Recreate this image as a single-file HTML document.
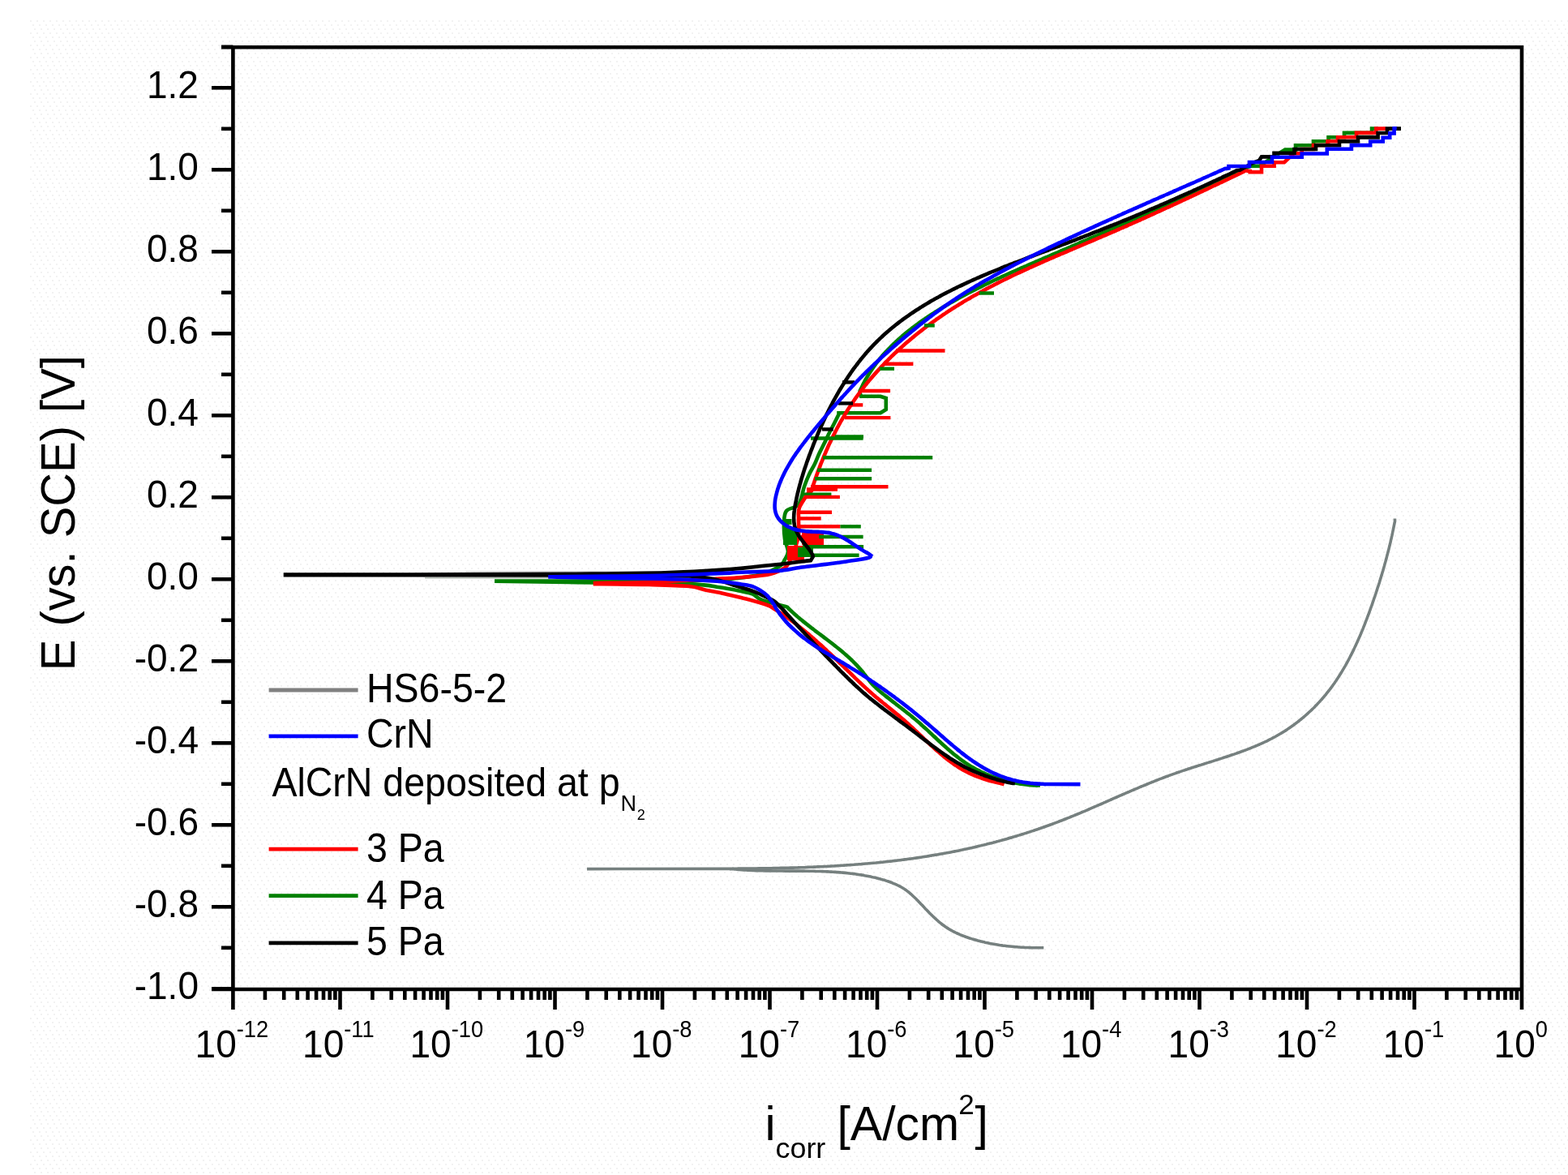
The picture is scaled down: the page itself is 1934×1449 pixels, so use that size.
<!DOCTYPE html><html><head><meta charset="utf-8"><style>html,body{margin:0;padding:0;background:#fff;width:1934px;height:1449px;overflow:hidden}svg{display:block}text{font-family:"Liberation Sans",Arial,sans-serif;fill:#000}</style></head><body>
<svg width="1934" height="1449" viewBox="0 0 1934 1449">
<defs><pattern id="dots" x="37" y="25" width="8" height="15" patternUnits="userSpaceOnUse"><rect x="0" y="0" width="2" height="2" fill="#f2f2f2"/><rect x="3" y="5" width="2" height="2" fill="#f2f2f2"/><rect x="5" y="10" width="2" height="2" fill="#f2f2f2"/></pattern></defs>
<rect x="0" y="0" width="1934" height="1449" fill="#fff"/>
<rect x="37" y="25" width="1897" height="1424" fill="url(#dots)"/>
<g fill="none" stroke-linejoin="miter" stroke-miterlimit="1.5" stroke-linecap="butt">
<path d="M524 712.8 H678" stroke="#b4bcb4" stroke-width="1.6"/>
<path d="M574 704.8 H860" stroke="#cfcfcf" stroke-width="1.2"/>
<path d="M724.0,1071.6 L900.0,1071.4 C900.5,1071.4 902.0,1071.2 903.0,1071.2 C904.0,1071.1 905.0,1071.2 906.0,1071.2 C907.0,1071.2 908.0,1071.2 909.0,1071.2 C910.0,1071.2 911.0,1071.1 912.0,1071.1 C913.0,1071.1 914.0,1071.1 915.0,1071.1 C916.0,1071.1 917.0,1071.1 918.0,1071.1 C919.0,1071.1 920.0,1071.1 921.0,1071.1 C922.0,1071.1 923.0,1071.1 924.0,1071.1 C925.0,1071.0 926.0,1071.0 927.1,1071.0 C928.1,1071.0 929.1,1071.0 930.1,1071.0 C931.1,1071.0 932.1,1071.0 933.1,1071.0 C934.1,1070.9 935.1,1070.9 936.1,1070.9 C937.1,1070.9 938.1,1070.9 939.1,1070.9 C940.1,1070.9 941.1,1070.9 942.1,1070.8 C943.1,1070.8 944.1,1070.8 945.1,1070.8 C946.1,1070.8 947.1,1070.8 948.1,1070.7 C949.1,1070.7 950.1,1070.7 951.1,1070.7 C952.1,1070.7 953.1,1070.7 954.1,1070.6 C955.1,1070.6 956.1,1070.6 957.1,1070.6 C958.1,1070.6 959.1,1070.5 960.1,1070.5 C961.1,1070.5 962.1,1070.5 963.2,1070.4 C964.2,1070.4 965.2,1070.4 966.2,1070.4 C967.2,1070.4 968.2,1070.3 969.2,1070.3 C970.2,1070.3 971.2,1070.3 972.2,1070.2 C973.2,1070.2 974.2,1070.2 975.2,1070.1 C976.2,1070.1 977.2,1070.1 978.2,1070.1 C979.2,1070.0 980.2,1070.0 981.2,1070.0 C982.2,1069.9 983.2,1069.9 984.2,1069.9 C985.2,1069.8 986.2,1069.8 987.2,1069.8 C988.2,1069.7 989.2,1069.7 990.2,1069.7 C991.2,1069.6 992.2,1069.6 993.2,1069.6 C994.2,1069.5 995.2,1069.5 996.2,1069.4 C997.3,1069.4 998.3,1069.4 999.3,1069.3 C1000.3,1069.3 1001.3,1069.2 1002.3,1069.2 C1003.3,1069.2 1004.3,1069.1 1005.3,1069.1 C1006.3,1069.0 1007.3,1069.0 1008.3,1068.9 C1009.3,1068.9 1010.3,1068.8 1011.3,1068.8 C1012.3,1068.8 1013.3,1068.7 1014.3,1068.7 C1015.3,1068.6 1016.3,1068.6 1017.3,1068.5 C1018.3,1068.5 1019.3,1068.4 1020.3,1068.4 C1021.3,1068.3 1022.3,1068.2 1023.3,1068.2 C1024.3,1068.1 1025.3,1068.1 1026.3,1068.0 C1027.3,1068.0 1028.3,1067.9 1029.3,1067.9 C1030.3,1067.8 1031.3,1067.7 1032.3,1067.7 C1033.3,1067.6 1034.3,1067.6 1035.3,1067.5 C1036.3,1067.4 1037.3,1067.4 1038.3,1067.3 C1039.3,1067.2 1040.3,1067.2 1041.3,1067.1 C1042.3,1067.0 1043.3,1067.0 1044.3,1066.9 C1045.3,1066.8 1046.3,1066.8 1047.3,1066.7 C1048.3,1066.6 1049.3,1066.6 1050.3,1066.5 C1051.3,1066.4 1052.3,1066.3 1053.3,1066.3 C1054.3,1066.2 1055.3,1066.1 1056.3,1066.0 C1057.3,1066.0 1058.3,1065.9 1059.3,1065.8 C1060.3,1065.7 1061.3,1065.6 1062.3,1065.6 C1063.3,1065.5 1064.3,1065.4 1065.3,1065.3 C1066.3,1065.2 1067.3,1065.1 1068.3,1065.0 C1069.3,1065.0 1070.3,1064.9 1071.3,1064.8 C1072.3,1064.7 1073.3,1064.6 1074.3,1064.5 C1075.3,1064.4 1076.3,1064.3 1077.3,1064.2 C1078.3,1064.1 1079.3,1064.0 1080.3,1064.0 C1081.3,1063.9 1082.3,1063.8 1083.3,1063.7 C1084.3,1063.6 1085.3,1063.5 1086.3,1063.4 C1087.3,1063.3 1088.3,1063.2 1089.3,1063.1 C1090.3,1062.9 1091.3,1062.8 1092.3,1062.7 C1093.3,1062.6 1094.3,1062.5 1095.2,1062.4 C1096.2,1062.3 1097.2,1062.2 1098.2,1062.1 C1099.2,1062.0 1100.2,1061.9 1101.2,1061.7 C1102.2,1061.6 1103.2,1061.5 1104.2,1061.4 C1105.2,1061.3 1106.2,1061.2 1107.2,1061.0 C1108.2,1060.9 1109.2,1060.8 1110.2,1060.7 C1111.2,1060.6 1112.2,1060.4 1113.2,1060.3 C1114.2,1060.2 1115.1,1060.0 1116.1,1059.9 C1117.1,1059.8 1118.1,1059.7 1119.1,1059.5 C1120.1,1059.4 1121.1,1059.3 1122.1,1059.1 C1123.1,1059.0 1124.1,1058.9 1125.1,1058.7 C1126.1,1058.6 1127.1,1058.4 1128.0,1058.3 C1129.0,1058.2 1130.0,1058.0 1131.0,1057.9 C1132.0,1057.7 1133.0,1057.6 1134.0,1057.4 C1135.0,1057.3 1136.0,1057.2 1137.0,1057.0 C1138.0,1056.9 1139.0,1056.7 1139.9,1056.5 C1140.9,1056.4 1141.9,1056.2 1142.9,1056.1 C1143.9,1055.9 1144.9,1055.8 1145.9,1055.6 C1146.9,1055.5 1147.9,1055.3 1148.8,1055.1 C1149.8,1055.0 1150.8,1054.8 1151.8,1054.6 C1152.8,1054.5 1153.8,1054.3 1154.8,1054.1 C1155.8,1054.0 1156.7,1053.8 1157.7,1053.6 C1158.7,1053.5 1159.7,1053.3 1160.7,1053.1 C1161.7,1052.9 1162.7,1052.8 1163.7,1052.6 C1164.6,1052.4 1165.6,1052.2 1166.6,1052.0 C1167.6,1051.9 1168.6,1051.7 1169.6,1051.5 C1170.6,1051.3 1171.5,1051.1 1172.5,1050.9 C1173.5,1050.7 1174.5,1050.5 1175.5,1050.3 C1176.5,1050.2 1177.4,1050.0 1178.4,1049.8 C1179.4,1049.6 1180.4,1049.4 1181.4,1049.2 C1182.4,1049.0 1183.3,1048.8 1184.3,1048.6 C1185.3,1048.4 1186.3,1048.2 1187.3,1047.9 C1188.3,1047.7 1189.2,1047.5 1190.2,1047.3 C1191.2,1047.1 1192.2,1046.9 1193.2,1046.7 C1194.1,1046.5 1195.1,1046.3 1196.1,1046.0 C1197.1,1045.8 1198.1,1045.6 1199.0,1045.4 C1200.0,1045.2 1201.0,1044.9 1202.0,1044.7 C1203.0,1044.5 1203.9,1044.3 1204.9,1044.0 C1205.9,1043.8 1206.9,1043.6 1207.8,1043.3 C1208.8,1043.1 1209.8,1042.9 1210.8,1042.6 C1211.7,1042.4 1212.7,1042.2 1213.7,1041.9 C1214.7,1041.7 1215.7,1041.4 1216.6,1041.2 C1217.6,1040.9 1218.6,1040.7 1219.5,1040.5 C1220.5,1040.2 1221.5,1040.0 1222.5,1039.7 C1223.4,1039.5 1224.4,1039.2 1225.4,1039.0 C1226.4,1038.7 1227.3,1038.4 1228.3,1038.2 C1229.3,1037.9 1230.2,1037.7 1231.2,1037.4 C1232.2,1037.1 1233.1,1036.9 1234.1,1036.6 C1235.1,1036.3 1236.1,1036.1 1237.0,1035.8 C1238.0,1035.5 1239.0,1035.3 1239.9,1035.0 C1240.9,1034.7 1241.9,1034.5 1242.8,1034.2 C1243.8,1033.9 1244.8,1033.6 1245.7,1033.3 C1246.7,1033.1 1247.6,1032.8 1248.6,1032.5 C1249.6,1032.2 1250.5,1031.9 1251.5,1031.6 C1252.5,1031.4 1253.4,1031.1 1254.4,1030.8 C1255.3,1030.5 1256.3,1030.2 1257.3,1029.9 C1258.2,1029.6 1259.2,1029.3 1260.1,1029.0 C1261.1,1028.7 1262.1,1028.4 1263.0,1028.1 C1264.0,1027.8 1264.9,1027.5 1265.9,1027.2 C1266.8,1026.9 1267.8,1026.6 1268.8,1026.3 C1269.7,1026.0 1270.7,1025.7 1271.6,1025.3 C1272.6,1025.0 1273.5,1024.7 1274.5,1024.4 C1275.4,1024.1 1276.4,1023.8 1277.3,1023.4 C1278.3,1023.1 1279.2,1022.8 1280.2,1022.5 C1281.1,1022.2 1282.1,1021.8 1283.0,1021.5 C1284.0,1021.2 1284.9,1020.8 1285.9,1020.5 C1286.8,1020.2 1287.8,1019.9 1288.7,1019.5 C1289.6,1019.2 1290.6,1018.8 1291.5,1018.5 C1292.5,1018.2 1293.4,1017.8 1294.4,1017.5 C1295.3,1017.1 1296.2,1016.8 1297.2,1016.5 C1298.1,1016.1 1299.1,1015.8 1300.0,1015.4 C1300.9,1015.1 1301.9,1014.7 1302.8,1014.4 C1303.7,1014.0 1304.7,1013.7 1305.6,1013.3 C1306.5,1012.9 1307.5,1012.6 1308.4,1012.2 C1309.3,1011.9 1310.3,1011.5 1311.2,1011.1 C1312.1,1010.8 1313.1,1010.4 1314.0,1010.0 C1314.9,1009.7 1315.9,1009.3 1316.8,1008.9 C1317.7,1008.6 1318.6,1008.2 1319.6,1007.8 C1320.5,1007.4 1321.4,1007.1 1322.3,1006.7 C1323.3,1006.3 1324.2,1005.9 1325.1,1005.6 C1326.0,1005.2 1327.0,1004.8 1327.9,1004.4 C1328.8,1004.0 1329.7,1003.6 1330.7,1003.3 C1331.6,1002.9 1332.5,1002.5 1333.4,1002.1 C1334.3,1001.7 1335.3,1001.3 1336.2,1000.9 C1337.1,1000.6 1338.0,1000.2 1338.9,999.8 C1339.9,999.4 1340.8,999.0 1341.7,998.6 C1342.6,998.2 1343.5,997.8 1344.4,997.4 C1345.4,997.0 1346.3,996.6 1347.2,996.2 C1348.1,995.8 1349.0,995.4 1349.9,995.0 C1350.9,994.6 1351.8,994.2 1352.7,993.9 C1353.6,993.5 1354.5,993.1 1355.4,992.7 C1356.3,992.3 1357.3,991.9 1358.2,991.5 C1359.1,991.1 1360.0,990.7 1360.9,990.3 C1361.8,989.9 1362.8,989.5 1363.7,989.1 C1364.6,988.7 1365.5,988.2 1366.4,987.8 C1367.3,987.4 1368.2,987.0 1369.2,986.6 C1370.1,986.2 1371.0,985.8 1371.9,985.4 C1372.8,985.0 1373.7,984.6 1374.6,984.2 C1375.6,983.8 1376.5,983.4 1377.4,983.0 C1378.3,982.6 1379.2,982.2 1380.1,981.8 C1381.0,981.4 1382.0,981.0 1382.9,980.6 C1383.8,980.2 1384.7,979.8 1385.6,979.4 C1386.5,979.0 1387.5,978.6 1388.4,978.2 C1389.3,977.8 1390.2,977.4 1391.1,977.0 C1392.1,976.6 1393.0,976.2 1393.9,975.8 C1394.8,975.5 1395.7,975.1 1396.6,974.7 C1397.6,974.3 1398.5,973.9 1399.4,973.5 C1400.3,973.1 1401.3,972.7 1402.2,972.3 C1403.1,971.9 1404.0,971.5 1404.9,971.1 C1405.9,970.7 1406.8,970.4 1407.7,970.0 C1408.6,969.6 1409.6,969.2 1410.5,968.8 C1411.4,968.4 1412.3,968.0 1413.3,967.7 C1414.2,967.3 1415.1,966.9 1416.0,966.5 C1417.0,966.1 1417.9,965.8 1418.8,965.4 C1419.8,965.0 1420.7,964.6 1421.6,964.3 C1422.6,963.9 1423.5,963.5 1424.4,963.1 C1425.4,962.8 1426.3,962.4 1427.2,962.0 C1428.2,961.7 1429.1,961.3 1430.0,960.9 C1431.0,960.6 1431.9,960.2 1432.9,959.9 C1433.8,959.5 1434.7,959.1 1435.7,958.8 C1436.6,958.4 1437.6,958.1 1438.5,957.7 C1439.4,957.4 1440.4,957.0 1441.3,956.7 C1442.3,956.3 1443.2,956.0 1444.2,955.6 C1445.1,955.3 1446.1,954.9 1447.0,954.6 C1448.0,954.3 1448.9,953.9 1449.9,953.6 C1450.8,953.2 1451.8,952.9 1452.7,952.6 C1453.7,952.3 1454.7,951.9 1455.6,951.6 C1456.6,951.3 1457.5,950.9 1458.5,950.6 C1459.5,950.3 1460.4,950.0 1461.4,949.7 C1462.3,949.3 1463.3,949.0 1464.3,948.7 C1465.2,948.4 1466.2,948.1 1467.2,947.8 C1468.1,947.4 1469.1,947.1 1470.0,946.8 C1471.0,946.5 1472.0,946.2 1472.9,945.9 C1473.9,945.6 1474.9,945.3 1475.8,945.0 C1476.8,944.7 1477.8,944.3 1478.7,944.0 C1479.7,943.7 1480.7,943.4 1481.7,943.1 C1482.6,942.8 1483.6,942.5 1484.6,942.2 C1485.5,941.9 1486.5,941.6 1487.5,941.3 C1488.4,941.0 1489.4,940.7 1490.4,940.4 C1491.3,940.1 1492.3,939.8 1493.3,939.5 C1494.2,939.2 1495.2,938.9 1496.2,938.6 C1497.1,938.2 1498.1,937.9 1499.1,937.6 C1500.0,937.3 1501.0,937.0 1502.0,936.7 C1502.9,936.4 1503.9,936.1 1504.9,935.8 C1505.8,935.5 1506.8,935.2 1507.8,934.9 C1508.7,934.5 1509.7,934.2 1510.6,933.9 C1511.6,933.6 1512.6,933.3 1513.5,933.0 C1514.5,932.6 1515.4,932.3 1516.4,932.0 C1517.3,931.7 1518.3,931.4 1519.3,931.0 C1520.2,930.7 1521.2,930.4 1522.1,930.1 C1523.1,929.7 1524.0,929.4 1525.0,929.1 C1525.9,928.7 1526.9,928.4 1527.8,928.1 C1528.7,927.7 1529.7,927.4 1530.6,927.1 C1531.6,926.7 1532.5,926.4 1533.5,926.0 C1534.4,925.7 1535.3,925.3 1536.3,925.0 C1537.2,924.6 1538.1,924.3 1539.1,923.9 C1540.0,923.6 1540.9,923.2 1541.9,922.8 C1542.8,922.5 1543.7,922.1 1544.6,921.7 C1545.5,921.3 1546.5,921.0 1547.4,920.6 C1548.3,920.2 1549.2,919.8 1550.1,919.4 C1551.1,919.0 1552.0,918.6 1552.9,918.3 C1553.8,917.9 1554.7,917.5 1555.6,917.0 C1556.5,916.6 1557.4,916.2 1558.3,915.8 C1559.2,915.4 1560.1,915.0 1561.0,914.5 C1561.9,914.1 1562.8,913.7 1563.7,913.3 C1564.5,912.8 1565.4,912.4 1566.3,911.9 C1567.2,911.5 1568.1,911.0 1568.9,910.6 C1569.8,910.1 1570.7,909.6 1571.6,909.2 C1572.4,908.7 1573.3,908.2 1574.2,907.7 C1575.0,907.3 1575.9,906.8 1576.7,906.3 C1577.6,905.8 1578.4,905.3 1579.3,904.8 C1580.1,904.3 1581.0,903.8 1581.8,903.2 C1582.7,902.7 1583.5,902.2 1584.3,901.7 C1585.2,901.1 1586.0,900.6 1586.8,900.1 C1587.7,899.5 1588.5,899.0 1589.3,898.4 C1590.1,897.9 1590.9,897.3 1591.8,896.7 C1592.6,896.2 1593.4,895.6 1594.2,895.0 C1595.0,894.4 1595.8,893.9 1596.6,893.3 C1597.4,892.7 1598.2,892.1 1599.0,891.5 C1599.8,890.9 1600.5,890.3 1601.3,889.7 C1602.1,889.1 1602.9,888.4 1603.7,887.8 C1604.4,887.2 1605.2,886.6 1606.0,885.9 C1606.7,885.3 1607.5,884.7 1608.2,884.0 C1609.0,883.4 1609.7,882.7 1610.5,882.1 C1611.2,881.4 1612.0,880.8 1612.7,880.1 C1613.5,879.4 1614.2,878.8 1614.9,878.1 C1615.6,877.4 1616.4,876.7 1617.1,876.1 C1617.8,875.4 1618.5,874.7 1619.2,874.0 C1619.9,873.3 1620.7,872.6 1621.4,871.9 C1622.1,871.2 1622.8,870.5 1623.4,869.7 C1624.1,869.0 1624.8,868.3 1625.5,867.6 C1626.2,866.9 1626.9,866.1 1627.5,865.4 C1628.2,864.7 1628.9,863.9 1629.5,863.2 C1630.2,862.4 1630.9,861.7 1631.5,860.9 C1632.2,860.2 1632.8,859.4 1633.4,858.7 C1634.1,857.9 1634.7,857.1 1635.4,856.4 C1636.0,855.6 1636.6,854.8 1637.2,854.0 C1637.9,853.2 1638.5,852.5 1639.1,851.7 C1639.7,850.9 1640.3,850.1 1640.9,849.3 C1641.5,848.5 1642.1,847.7 1642.7,846.9 C1643.3,846.1 1643.9,845.3 1644.4,844.4 C1645.0,843.6 1645.6,842.8 1646.2,842.0 C1646.7,841.2 1647.3,840.3 1647.9,839.5 C1648.4,838.7 1649.0,837.8 1649.5,837.0 C1650.1,836.2 1650.6,835.3 1651.2,834.5 C1651.7,833.6 1652.3,832.8 1652.8,831.9 C1653.3,831.1 1653.8,830.2 1654.4,829.4 C1654.9,828.5 1655.4,827.7 1655.9,826.8 C1656.5,825.9 1657.0,825.1 1657.5,824.2 C1658.0,823.3 1658.5,822.4 1659.0,821.6 C1659.5,820.7 1660.0,819.8 1660.5,818.9 C1661.0,818.0 1661.4,817.2 1661.9,816.3 C1662.4,815.4 1662.9,814.5 1663.4,813.6 C1663.8,812.7 1664.3,811.8 1664.8,810.9 C1665.3,810.0 1665.7,809.1 1666.2,808.2 C1666.6,807.3 1667.1,806.4 1667.5,805.5 C1668.0,804.6 1668.4,803.7 1668.9,802.8 C1669.3,801.8 1669.8,800.9 1670.2,800.0 C1670.7,799.1 1671.1,798.2 1671.5,797.2 C1672.0,796.3 1672.4,795.4 1672.8,794.5 C1673.2,793.6 1673.7,792.6 1674.1,791.7 C1674.5,790.8 1674.9,789.8 1675.3,788.9 C1675.7,788.0 1676.1,787.1 1676.5,786.1 C1677.0,785.2 1677.4,784.2 1677.8,783.3 C1678.2,782.4 1678.6,781.4 1678.9,780.5 C1679.3,779.6 1679.7,778.6 1680.1,777.7 C1680.5,776.7 1680.9,775.8 1681.3,774.9 C1681.7,773.9 1682.0,773.0 1682.4,772.0 C1682.8,771.1 1683.2,770.1 1683.5,769.2 C1683.9,768.2 1684.3,767.3 1684.6,766.3 C1685.0,765.4 1685.4,764.4 1685.7,763.5 C1686.1,762.5 1686.5,761.6 1686.8,760.6 C1687.2,759.7 1687.5,758.7 1687.9,757.8 C1688.2,756.8 1688.6,755.9 1688.9,754.9 C1689.3,754.0 1689.6,753.0 1690.0,752.1 C1690.3,751.1 1690.6,750.2 1691.0,749.2 C1691.3,748.3 1691.6,747.3 1692.0,746.4 C1692.3,745.4 1692.6,744.5 1693.0,743.5 C1693.3,742.6 1693.6,741.6 1694.0,740.7 C1694.3,739.7 1694.6,738.8 1694.9,737.8 C1695.3,736.9 1695.6,735.9 1695.9,735.0 C1696.2,734.0 1696.5,733.1 1696.9,732.1 C1697.2,731.2 1697.5,730.2 1697.8,729.3 C1698.1,728.3 1698.4,727.4 1698.7,726.4 C1699.0,725.5 1699.3,724.5 1699.6,723.6 C1700.0,722.6 1700.3,721.7 1700.6,720.7 C1700.9,719.8 1701.2,718.9 1701.5,717.9 C1701.7,717.0 1702.0,716.0 1702.3,715.1 C1702.6,714.1 1702.9,713.2 1703.2,712.2 C1703.5,711.3 1703.8,710.3 1704.1,709.4 C1704.4,708.4 1704.6,707.5 1704.9,706.5 C1705.2,705.6 1705.5,704.6 1705.8,703.7 C1706.0,702.7 1706.3,701.8 1706.6,700.8 C1706.9,699.9 1707.1,698.9 1707.4,698.0 C1707.7,697.0 1707.9,696.1 1708.2,695.1 C1708.5,694.1 1708.7,693.2 1709.0,692.2 C1709.2,691.3 1709.5,690.3 1709.8,689.4 C1710.0,688.4 1710.3,687.5 1710.5,686.5 C1710.8,685.5 1711.0,684.6 1711.3,683.6 C1711.5,682.7 1711.8,681.7 1712.0,680.7 C1712.3,679.8 1712.5,678.8 1712.8,677.9 C1713.0,676.9 1713.2,675.9 1713.5,675.0 C1713.7,674.0 1713.9,673.0 1714.2,672.1 C1714.4,671.1 1714.6,670.1 1714.9,669.2 C1715.1,668.2 1715.3,667.2 1715.5,666.3 C1715.8,665.3 1716.0,664.3 1716.2,663.3 C1716.4,662.4 1716.6,661.4 1716.9,660.4 C1717.1,659.4 1717.3,658.5 1717.5,657.5 C1717.7,656.5 1717.9,655.5 1718.1,654.5 C1718.3,653.6 1718.5,652.6 1718.7,651.6 C1718.9,650.6 1719.1,649.6 1719.3,648.6 C1719.5,647.6 1719.7,646.6 1719.9,645.7 C1720.1,644.7 1720.4,643.7 1720.5,642.7 C1720.6,641.6 1720.4,640.0 1720.4,639.5" stroke="#76807f" stroke-width="3.6"/>
<path d="M900.0,1071.8 C900.5,1071.8 902.2,1071.6 903.2,1071.7 C904.3,1071.7 905.2,1071.9 906.1,1071.9 C907.1,1072.0 908.0,1072.1 909.0,1072.2 C909.9,1072.3 910.9,1072.4 911.9,1072.4 C912.8,1072.5 913.8,1072.6 914.8,1072.7 C915.7,1072.7 916.7,1072.8 917.7,1072.9 C918.6,1072.9 919.6,1073.0 920.6,1073.0 C921.6,1073.1 922.6,1073.1 923.5,1073.2 C924.5,1073.2 925.5,1073.3 926.5,1073.3 C927.5,1073.4 928.5,1073.4 929.5,1073.5 C930.4,1073.5 931.4,1073.5 932.4,1073.6 C933.4,1073.6 934.4,1073.6 935.4,1073.7 C936.4,1073.7 937.4,1073.7 938.4,1073.7 C939.4,1073.8 940.4,1073.8 941.4,1073.8 C942.4,1073.8 943.4,1073.8 944.4,1073.9 C945.4,1073.9 946.4,1073.9 947.4,1073.9 C948.4,1073.9 949.5,1073.9 950.5,1073.9 C951.5,1074.0 952.5,1074.0 953.5,1074.0 C954.5,1074.0 955.5,1074.0 956.5,1074.0 C957.6,1074.0 958.6,1074.0 959.6,1074.0 C960.6,1074.0 961.6,1074.0 962.6,1074.0 C963.7,1074.0 964.7,1074.0 965.7,1074.0 C966.7,1074.0 967.7,1074.0 968.8,1074.1 C969.8,1074.1 970.8,1074.1 971.8,1074.1 C972.9,1074.1 973.9,1074.1 974.9,1074.1 C975.9,1074.1 977.0,1074.1 978.0,1074.1 C979.0,1074.1 980.0,1074.1 981.1,1074.1 C982.1,1074.1 983.1,1074.1 984.1,1074.1 C985.2,1074.1 986.2,1074.1 987.2,1074.1 C988.3,1074.1 989.3,1074.1 990.3,1074.1 C991.3,1074.1 992.4,1074.2 993.4,1074.2 C994.4,1074.2 995.5,1074.2 996.5,1074.2 C997.5,1074.2 998.5,1074.2 999.6,1074.3 C1000.6,1074.3 1001.6,1074.3 1002.7,1074.3 C1003.7,1074.3 1004.7,1074.3 1005.7,1074.4 C1006.8,1074.4 1007.8,1074.4 1008.8,1074.5 C1009.8,1074.5 1010.9,1074.5 1011.9,1074.5 C1012.9,1074.6 1014.0,1074.6 1015.0,1074.6 C1016.0,1074.7 1017.0,1074.7 1018.0,1074.8 C1019.1,1074.8 1020.1,1074.9 1021.1,1074.9 C1022.1,1075.0 1023.2,1075.0 1024.2,1075.1 C1025.2,1075.1 1026.2,1075.2 1027.2,1075.2 C1028.3,1075.3 1029.3,1075.4 1030.3,1075.4 C1031.3,1075.5 1032.3,1075.6 1033.3,1075.6 C1034.4,1075.7 1035.4,1075.8 1036.4,1075.9 C1037.4,1076.0 1038.4,1076.0 1039.4,1076.1 C1040.4,1076.2 1041.4,1076.3 1042.5,1076.4 C1043.5,1076.5 1044.5,1076.6 1045.5,1076.7 C1046.5,1076.8 1047.5,1076.9 1048.5,1077.1 C1049.5,1077.2 1050.5,1077.3 1051.5,1077.4 C1052.5,1077.5 1053.5,1077.7 1054.5,1077.8 C1055.5,1077.9 1056.5,1078.1 1057.5,1078.2 C1058.5,1078.4 1059.4,1078.5 1060.4,1078.7 C1061.4,1078.8 1062.4,1079.0 1063.4,1079.1 C1064.4,1079.3 1065.4,1079.5 1066.3,1079.7 C1067.3,1079.8 1068.3,1080.0 1069.3,1080.2 C1070.3,1080.4 1071.2,1080.6 1072.2,1080.8 C1073.2,1081.0 1074.2,1081.2 1075.1,1081.4 C1076.1,1081.6 1077.1,1081.8 1078.0,1082.1 C1079.0,1082.3 1080.0,1082.5 1080.9,1082.7 C1081.9,1083.0 1082.8,1083.2 1083.8,1083.5 C1084.7,1083.7 1085.7,1084.0 1086.6,1084.3 C1087.6,1084.5 1088.5,1084.8 1089.5,1085.1 C1090.4,1085.3 1091.4,1085.6 1092.3,1085.9 C1093.2,1086.2 1094.2,1086.5 1095.1,1086.8 C1096.0,1087.1 1097.0,1087.5 1097.9,1087.8 C1098.8,1088.1 1099.7,1088.5 1100.6,1088.8 C1101.5,1089.2 1102.4,1089.6 1103.3,1089.9 C1104.2,1090.3 1105.1,1090.7 1106.0,1091.1 C1106.9,1091.5 1107.8,1092.0 1108.6,1092.4 C1109.5,1092.9 1110.4,1093.3 1111.2,1093.8 C1112.1,1094.3 1112.9,1094.8 1113.8,1095.3 C1114.6,1095.8 1115.4,1096.3 1116.2,1096.9 C1117.1,1097.4 1117.9,1098.0 1118.7,1098.6 C1119.5,1099.2 1120.2,1099.8 1121.0,1100.4 C1121.8,1101.1 1122.6,1101.7 1123.3,1102.4 C1124.1,1103.0 1124.8,1103.7 1125.6,1104.4 C1126.3,1105.1 1127.1,1105.8 1127.8,1106.5 C1128.5,1107.2 1129.3,1107.9 1130.0,1108.6 C1130.7,1109.4 1131.4,1110.1 1132.2,1110.8 C1132.9,1111.6 1133.6,1112.3 1134.3,1113.1 C1135.0,1113.8 1135.7,1114.6 1136.4,1115.3 C1137.2,1116.1 1137.9,1116.8 1138.6,1117.6 C1139.3,1118.3 1140.0,1119.1 1140.7,1119.9 C1141.4,1120.6 1142.1,1121.3 1142.8,1122.1 C1143.5,1122.8 1144.2,1123.6 1145.0,1124.3 C1145.7,1125.0 1146.4,1125.8 1147.1,1126.5 C1147.8,1127.2 1148.5,1127.9 1149.3,1128.6 C1150.0,1129.3 1150.7,1130.0 1151.4,1130.7 C1152.2,1131.4 1152.9,1132.1 1153.7,1132.8 C1154.4,1133.5 1155.1,1134.1 1155.9,1134.8 C1156.6,1135.5 1157.4,1136.1 1158.2,1136.8 C1158.9,1137.4 1159.7,1138.0 1160.5,1138.6 C1161.3,1139.3 1162.0,1139.9 1162.8,1140.5 C1163.6,1141.1 1164.4,1141.6 1165.2,1142.2 C1166.0,1142.8 1166.8,1143.3 1167.7,1143.9 C1168.5,1144.4 1169.3,1144.9 1170.2,1145.5 C1171.0,1146.0 1171.8,1146.5 1172.7,1147.0 C1173.6,1147.4 1174.4,1147.9 1175.3,1148.4 C1176.2,1148.8 1177.0,1149.3 1177.9,1149.7 C1178.8,1150.2 1179.7,1150.6 1180.6,1151.0 C1181.5,1151.4 1182.4,1151.8 1183.3,1152.2 C1184.3,1152.6 1185.2,1153.0 1186.1,1153.3 C1187.0,1153.7 1188.0,1154.1 1188.9,1154.4 C1189.8,1154.8 1190.8,1155.1 1191.7,1155.5 C1192.7,1155.8 1193.6,1156.1 1194.6,1156.5 C1195.5,1156.8 1196.5,1157.1 1197.4,1157.4 C1198.4,1157.7 1199.3,1158.0 1200.3,1158.3 C1201.3,1158.6 1202.2,1158.9 1203.2,1159.1 C1204.2,1159.4 1205.2,1159.7 1206.2,1160.0 C1207.1,1160.2 1208.1,1160.5 1209.1,1160.7 C1210.1,1161.0 1211.1,1161.2 1212.1,1161.5 C1213.0,1161.7 1214.0,1161.9 1215.0,1162.2 C1216.0,1162.4 1217.0,1162.6 1218.0,1162.8 C1219.0,1163.0 1220.0,1163.2 1221.0,1163.4 C1222.0,1163.6 1223.0,1163.8 1224.0,1164.0 C1225.0,1164.2 1226.0,1164.4 1227.1,1164.5 C1228.1,1164.7 1229.1,1164.9 1230.1,1165.0 C1231.1,1165.2 1232.1,1165.3 1233.1,1165.5 C1234.1,1165.6 1235.1,1165.8 1236.2,1165.9 C1237.2,1166.1 1238.2,1166.2 1239.2,1166.3 C1240.2,1166.4 1241.2,1166.6 1242.2,1166.7 C1243.3,1166.8 1244.3,1166.9 1245.3,1167.0 C1246.3,1167.1 1247.3,1167.2 1248.3,1167.3 C1249.3,1167.4 1250.3,1167.5 1251.4,1167.6 C1252.4,1167.7 1253.4,1167.8 1254.4,1167.8 C1255.4,1167.9 1256.4,1168.0 1257.4,1168.0 C1258.4,1168.1 1259.4,1168.2 1260.4,1168.2 C1261.5,1168.3 1262.5,1168.3 1263.5,1168.4 C1264.5,1168.4 1265.5,1168.5 1266.5,1168.5 C1267.5,1168.5 1268.5,1168.6 1269.5,1168.6 C1270.4,1168.6 1271.4,1168.7 1272.4,1168.7 C1273.4,1168.7 1274.4,1168.7 1275.4,1168.7 C1276.4,1168.7 1277.4,1168.8 1278.3,1168.8 C1279.3,1168.8 1280.3,1168.8 1281.3,1168.8 C1282.3,1168.8 1283.2,1168.8 1284.2,1168.8 C1285.2,1168.7 1286.8,1168.7 1287.3,1168.7" stroke="#76807f" stroke-width="3.6"/>
<path d="M1283.0,968.5 C1282.3,968.5 1280.3,968.7 1278.9,968.7 C1277.6,968.6 1276.4,968.5 1275.1,968.4 C1273.8,968.3 1272.5,968.2 1271.2,968.1 C1269.8,968.0 1268.5,967.9 1267.2,967.7 C1265.9,967.6 1264.6,967.4 1263.3,967.2 C1261.9,967.1 1260.6,966.9 1259.3,966.7 C1258.0,966.5 1256.7,966.2 1255.3,966.0 C1254.0,965.8 1252.7,965.5 1251.3,965.3 C1250.0,965.0 1248.7,964.7 1247.4,964.4 C1246.0,964.1 1244.7,963.8 1243.4,963.5 C1242.1,963.2 1240.8,962.8 1239.4,962.5 C1238.1,962.1 1236.8,961.8 1235.5,961.4 C1234.2,961.0 1232.9,960.6 1231.6,960.2 C1230.3,959.8 1229.0,959.4 1227.7,958.9 C1226.4,958.5 1225.1,958.0 1223.9,957.6 C1222.6,957.1 1221.3,956.6 1220.0,956.1 C1218.8,955.6 1217.5,955.1 1216.3,954.6 C1215.0,954.0 1213.8,953.5 1212.5,952.9 C1211.3,952.4 1210.1,951.8 1208.9,951.2 C1207.6,950.6 1206.4,950.0 1205.2,949.4 C1204.1,948.7 1202.9,948.1 1201.7,947.4 C1200.5,946.8 1199.4,946.1 1198.2,945.4 C1197.1,944.8 1195.9,944.1 1194.8,943.3 C1193.7,942.6 1192.6,941.9 1191.5,941.2 C1190.4,940.4 1189.3,939.7 1188.2,938.9 C1187.1,938.1 1186.0,937.3 1184.9,936.6 C1183.9,935.8 1182.8,935.0 1181.8,934.1 C1180.7,933.3 1179.7,932.5 1178.6,931.7 C1177.6,930.9 1176.5,930.0 1175.5,929.2 C1174.5,928.3 1173.5,927.5 1172.4,926.6 C1171.4,925.7 1170.4,924.9 1169.4,924.0 C1168.4,923.1 1167.4,922.2 1166.4,921.3 C1165.4,920.4 1164.4,919.5 1163.4,918.6 C1162.4,917.7 1161.4,916.8 1160.4,915.9 C1159.5,915.0 1158.5,914.1 1157.5,913.2 C1156.5,912.3 1155.5,911.4 1154.5,910.4 C1153.6,909.5 1152.6,908.6 1151.6,907.7 C1150.6,906.8 1149.6,905.8 1148.6,904.9 C1147.6,904.0 1146.7,903.1 1145.7,902.2 C1144.7,901.2 1143.7,900.3 1142.7,899.4 C1141.7,898.5 1140.7,897.6 1139.7,896.7 C1138.7,895.8 1137.7,894.9 1136.7,894.0 C1135.7,893.0 1134.7,892.1 1133.7,891.3 C1132.6,890.4 1131.6,889.5 1130.6,888.6 C1129.6,887.7 1128.5,886.8 1127.5,886.0 C1126.4,885.1 1125.4,884.2 1124.3,883.4 C1123.3,882.5 1122.2,881.6 1121.2,880.8 C1120.1,879.9 1119.1,879.1 1118.0,878.3 C1116.9,877.4 1115.9,876.6 1114.8,875.7 C1113.7,874.9 1112.7,874.1 1111.6,873.2 C1110.5,872.4 1109.5,871.6 1108.4,870.8 C1107.3,869.9 1106.3,869.1 1105.2,868.3 C1104.1,867.5 1103.1,866.6 1102.0,865.8 C1100.9,865.0 1099.9,864.2 1098.8,863.4 C1097.8,862.5 1096.7,861.7 1095.7,860.9 C1094.6,860.1 1093.6,859.3 1092.5,858.4 C1091.5,857.6 1090.5,856.8 1089.4,856.0 C1088.4,855.2 1087.4,854.3 1086.4,853.5 C1085.4,852.7 1084.4,851.8 1083.4,851.0 C1082.4,850.1 1081.4,849.3 1080.5,848.4 C1079.5,847.5 1078.6,846.6 1077.7,845.7 C1076.8,844.7 1075.9,843.8 1075.0,842.8 C1074.2,841.8 1073.3,840.8 1072.5,839.7 C1071.7,838.7 1070.9,837.6 1070.1,836.6 C1069.3,835.5 1068.5,834.4 1067.7,833.3 C1066.9,832.3 1066.1,831.2 1065.2,830.2 C1064.4,829.1 1063.6,828.1 1062.7,827.1 C1061.9,826.1 1061.0,825.0 1060.1,824.1 C1059.2,823.1 1058.3,822.1 1057.4,821.1 C1056.5,820.1 1055.6,819.2 1054.7,818.2 C1053.7,817.3 1052.8,816.3 1051.8,815.4 C1050.9,814.5 1049.9,813.5 1049.0,812.6 C1048.0,811.7 1047.0,810.8 1046.0,809.9 C1045.0,809.0 1044.0,808.1 1043.0,807.2 C1042.0,806.4 1041.0,805.5 1040.0,804.6 C1039.0,803.7 1037.9,802.9 1036.9,802.0 C1035.9,801.2 1034.8,800.3 1033.8,799.5 C1032.7,798.6 1031.7,797.8 1030.6,797.0 C1029.6,796.1 1028.5,795.3 1027.5,794.5 C1026.4,793.6 1025.3,792.8 1024.3,792.0 C1023.2,791.2 1022.1,790.3 1021.0,789.5 C1020.0,788.7 1018.9,787.9 1017.8,787.1 C1016.7,786.3 1015.7,785.4 1014.6,784.6 C1013.5,783.8 1012.4,783.0 1011.3,782.2 C1010.2,781.4 1009.2,780.6 1008.1,779.8 C1007.0,778.9 1005.9,778.1 1004.8,777.3 C1003.8,776.5 1002.7,775.7 1001.6,774.8 C1000.5,774.0 999.5,773.2 998.4,772.4 C997.3,771.6 996.3,770.7 995.2,769.9 C994.1,769.1 993.1,768.2 992.0,767.4 C991.0,766.5 989.9,765.7 988.9,764.8 C987.9,764.0 986.8,763.1 985.8,762.2 C984.8,761.4 983.7,760.5 982.7,759.6 C981.7,758.8 980.7,757.9 979.7,757.0 C978.7,756.1 977.7,755.2 976.7,754.3 C975.7,753.4 974.7,752.5 973.8,751.5 C972.8,750.6 971.5,749.1 971.0,748.6 C965.8,747.2 947.1,742.6 940.0,740.0 C932.9,737.4 932.9,734.5 928.6,732.7 C924.3,730.9 918.9,730.2 914.1,729.1 C909.3,728.0 904.5,727.1 899.7,726.2 C894.9,725.4 893.7,725.0 885.2,724.0 C876.8,723.0 879.9,721.4 849.0,720.4 C818.1,719.4 739.5,718.6 700.0,718.0 C660.5,717.4 626.9,717.0 612.3,716.8 L612.3,716.5 C626.9,716.5 660.4,716.6 700.0,716.5 C739.6,716.4 816.7,716.4 850.0,716.0 C883.3,715.6 885.0,715.3 900.0,714.0 C915.0,712.7 929.7,710.7 940.0,708.0 C950.3,705.3 957.3,701.0 962.0,698.0 C966.7,695.0 966.3,693.0 968.0,690.0 C969.7,687.0 972.0,684.2 972.0,680.0 C972.0,675.8 968.8,670.8 968.0,665.0 C967.2,659.2 966.7,650.8 967.0,645.0 C967.3,639.2 967.0,633.8 970.0,630.0 C973.0,626.2 981.3,627.0 985.0,622.0 C988.7,617.0 989.8,606.2 992.0,600.0 C994.2,593.8 995.8,589.7 998.0,585.0 C1000.2,580.3 1003.0,576.2 1005.0,572.0 C1007.0,567.8 1008.4,563.6 1010.3,559.5 C1012.2,555.4 1014.5,551.2 1016.5,547.1 C1018.5,543.0 1020.3,538.8 1022.4,534.7 C1024.5,530.6 1026.9,526.2 1028.9,522.3 C1030.9,518.3 1033.6,512.9 1034.5,511.0 L1034.5,509.3 L1086.0,509.3 L1092.8,505.0 L1092.8,491.0 L1086.0,488.8 L1062.0,488.8 C1061.7,487.8 1060.5,484.5 1060.5,482.9 C1060.5,481.3 1061.5,480.5 1062.0,479.3 C1062.6,478.2 1063.1,477.0 1063.7,475.8 C1064.2,474.7 1064.8,473.5 1065.4,472.3 C1066.0,471.2 1066.6,470.1 1067.2,468.9 C1067.8,467.8 1068.5,466.7 1069.1,465.6 C1069.8,464.4 1070.4,463.3 1071.1,462.2 C1071.8,461.1 1072.4,460.1 1073.1,459.0 C1073.8,457.9 1074.5,456.8 1075.3,455.8 C1076.0,454.7 1076.7,453.6 1077.5,452.6 C1078.2,451.5 1079.0,450.5 1079.7,449.5 C1080.5,448.4 1081.3,447.4 1082.1,446.4 C1082.9,445.4 1083.7,444.4 1084.5,443.4 C1085.3,442.4 1086.1,441.4 1087.0,440.4 C1087.8,439.4 1088.6,438.4 1089.5,437.4 C1090.4,436.5 1091.2,435.5 1092.1,434.5 C1093.0,433.6 1093.9,432.6 1094.7,431.7 C1095.6,430.7 1096.5,429.8 1097.5,428.9 C1098.4,428.0 1099.3,427.0 1100.2,426.1 C1101.2,425.2 1102.1,424.3 1103.0,423.4 C1104.0,422.5 1104.9,421.6 1105.9,420.7 C1106.9,419.8 1107.8,418.9 1108.8,418.1 C1109.8,417.2 1110.8,416.3 1111.8,415.5 C1112.8,414.6 1113.8,413.7 1114.8,412.9 C1115.8,412.0 1116.8,411.2 1117.8,410.4 C1118.9,409.5 1119.9,408.7 1120.9,407.9 C1122.0,407.0 1123.0,406.2 1124.1,405.4 C1125.1,404.6 1126.2,403.8 1127.2,403.0 C1128.3,402.2 1129.3,401.4 1130.4,400.6 C1131.5,399.8 1132.6,399.0 1133.6,398.2 C1134.7,397.5 1135.8,396.7 1136.9,395.9 C1138.0,395.2 1139.1,394.4 1140.2,393.6 C1141.3,392.9 1142.4,392.1 1143.5,391.4 C1144.6,390.6 1145.7,389.9 1146.8,389.2 C1148.0,388.4 1149.1,387.7 1150.2,387.0 C1151.3,386.2 1152.5,385.5 1153.6,384.8 C1154.7,384.1 1155.8,383.4 1157.0,382.7 C1158.1,382.0 1159.3,381.2 1160.4,380.5 C1161.5,379.9 1162.7,379.2 1163.8,378.5 C1165.0,377.8 1166.1,377.1 1167.3,376.4 C1168.4,375.7 1169.6,375.1 1170.8,374.4 C1171.9,373.7 1173.1,373.0 1174.3,372.4 C1175.4,371.7 1176.6,371.1 1177.8,370.4 C1178.9,369.7 1180.1,369.1 1181.3,368.4 C1182.4,367.8 1183.6,367.2 1184.8,366.5 C1186.0,365.9 1187.2,365.2 1188.4,364.6 C1189.5,364.0 1190.7,363.3 1191.9,362.7 C1193.1,362.1 1194.3,361.5 1195.5,360.8 C1196.7,360.2 1197.9,359.6 1199.1,359.0 C1200.3,358.4 1201.5,357.8 1202.7,357.2 C1203.9,356.6 1205.1,356.0 1206.3,355.4 C1207.5,354.8 1208.7,354.2 1209.9,353.6 C1211.1,353.0 1212.3,352.4 1213.5,351.8 C1214.7,351.2 1215.9,350.6 1217.2,350.0 C1218.4,349.4 1219.6,348.9 1220.8,348.3 C1222.0,347.7 1223.2,347.1 1224.5,346.5 C1225.7,346.0 1226.9,345.4 1228.1,344.8 C1229.3,344.3 1230.6,343.7 1231.8,343.1 C1233.0,342.6 1234.2,342.0 1235.5,341.4 C1236.7,340.9 1237.9,340.3 1239.1,339.8 C1240.4,339.2 1241.6,338.6 1242.8,338.1 C1244.1,337.5 1245.3,337.0 1246.5,336.4 C1247.7,335.9 1249.0,335.3 1250.2,334.8 C1251.4,334.2 1252.7,333.7 1253.9,333.2 C1255.1,332.6 1256.4,332.1 1257.6,331.5 C1258.8,331.0 1260.1,330.4 1261.3,329.9 C1262.5,329.4 1263.8,328.8 1265.0,328.3 C1266.2,327.8 1267.5,327.2 1268.7,326.7 C1269.9,326.1 1271.2,325.6 1272.4,325.1 C1273.6,324.5 1274.9,324.0 1276.1,323.5 C1277.3,322.9 1278.6,322.4 1279.8,321.9 C1281.0,321.4 1282.3,320.8 1283.5,320.3 C1284.7,319.8 1286.0,319.2 1287.2,318.7 C1288.4,318.2 1289.7,317.6 1290.9,317.1 C1292.1,316.6 1293.3,316.1 1294.6,315.5 C1295.8,315.0 1297.0,314.5 1298.3,313.9 C1299.5,313.4 1300.7,312.9 1301.9,312.4 C1303.2,311.8 1304.4,311.3 1305.6,310.8 C1306.9,310.3 1308.1,309.7 1309.3,309.2 C1310.5,308.7 1311.8,308.1 1313.0,307.6 C1314.2,307.1 1315.4,306.6 1316.7,306.0 C1317.9,305.5 1319.1,305.0 1320.3,304.5 C1321.6,303.9 1322.8,303.4 1324.0,302.9 C1325.2,302.4 1326.5,301.8 1327.7,301.3 C1328.9,300.8 1330.1,300.3 1331.3,299.7 C1332.6,299.2 1333.8,298.7 1335.0,298.2 C1336.2,297.6 1337.5,297.1 1338.7,296.6 C1339.9,296.1 1341.1,295.5 1342.3,295.0 C1343.6,294.5 1344.8,294.0 1346.0,293.4 C1347.2,292.9 1348.4,292.4 1349.7,291.9 C1350.9,291.3 1352.1,290.8 1353.3,290.3 C1354.5,289.8 1355.8,289.2 1357.0,288.7 C1358.2,288.2 1359.4,287.7 1360.6,287.1 C1361.8,286.6 1363.1,286.1 1364.3,285.6 C1365.5,285.0 1366.7,284.5 1367.9,284.0 C1369.1,283.5 1370.4,282.9 1371.6,282.4 C1372.8,281.9 1374.0,281.3 1375.2,280.8 C1376.4,280.3 1377.7,279.8 1378.9,279.2 C1380.1,278.7 1381.3,278.2 1382.5,277.7 C1383.7,277.1 1385.0,276.6 1386.2,276.1 C1387.4,275.5 1388.6,275.0 1389.8,274.5 C1391.0,274.0 1392.3,273.4 1393.5,272.9 C1394.7,272.4 1395.9,271.8 1397.1,271.3 C1398.3,270.8 1399.5,270.2 1400.8,269.7 C1402.0,269.2 1403.2,268.6 1404.4,268.1 C1405.6,267.6 1406.8,267.0 1408.0,266.5 C1409.3,266.0 1410.5,265.4 1411.7,264.9 C1412.9,264.4 1414.1,263.8 1415.3,263.3 C1416.5,262.8 1417.8,262.2 1419.0,261.7 C1420.2,261.2 1421.4,260.6 1422.6,260.1 C1423.8,259.6 1425.0,259.0 1426.3,258.5 C1427.5,257.9 1428.7,257.4 1429.9,256.9 C1431.1,256.3 1432.3,255.8 1433.5,255.2 C1434.8,254.7 1436.0,254.2 1437.2,253.6 C1438.4,253.1 1439.6,252.5 1440.8,252.0 C1442.0,251.4 1443.3,250.9 1444.5,250.4 C1445.7,249.8 1446.9,249.3 1448.1,248.7 C1449.3,248.2 1450.5,247.6 1451.8,247.1 C1453.0,246.5 1454.2,246.0 1455.4,245.4 C1456.6,244.9 1457.8,244.3 1459.1,243.8 C1460.3,243.2 1461.5,242.7 1462.7,242.1 C1463.9,241.6 1465.1,241.0 1466.3,240.5 C1467.6,239.9 1468.8,239.4 1470.0,238.8 C1471.2,238.3 1472.4,237.7 1473.6,237.1 C1474.9,236.6 1476.1,236.0 1477.3,235.5 C1478.5,234.9 1479.7,234.3 1480.9,233.8 C1482.2,233.2 1483.4,232.7 1484.6,232.1 C1485.8,231.5 1487.0,231.0 1488.2,230.4 C1489.5,229.8 1490.7,229.3 1491.9,228.7 C1493.1,228.1 1494.3,227.6 1495.5,227.0 C1496.8,226.4 1498.0,225.9 1499.2,225.3 C1500.4,224.7 1501.6,224.2 1502.9,223.6 C1504.1,223.0 1505.3,222.4 1506.5,221.9 C1507.7,221.3 1509.0,220.7 1510.2,220.1 C1511.4,219.6 1512.6,219.0 1513.8,218.4 C1515.1,217.8 1516.3,217.2 1517.5,216.7 C1518.7,216.1 1519.9,215.5 1521.2,214.9 C1522.4,214.3 1523.6,213.8 1524.8,213.2 C1526.1,212.6 1527.3,212.0 1528.5,211.4 C1529.7,210.8 1530.9,210.2 1532.2,209.6 C1533.4,209.0 1534.6,208.5 1535.8,207.9 C1537.1,207.3 1538.3,206.6 1539.5,206.1 C1540.7,205.6 1542.4,205.0 1543.0,204.8 L1553.5,204.8 L1570.0,194.0 L1585.0,184.6 L1585.0,184.6 L1598.0,184.6 L1598.0,179.2 L1620.0,179.2 L1620.0,174.2 L1638.5,174.2 L1638.5,169.2 L1658.0,169.2 L1658.0,163.9 L1692.0,163.9 L1692.0,158.6 L1699.6,158.6" stroke="#008000" stroke-width="4.6"/>
<path d="M1238.6,967.2 C1238.0,967.0 1236.1,966.5 1234.8,966.2 C1233.5,965.9 1232.1,965.6 1230.7,965.3 C1229.4,965.0 1228.0,964.7 1226.7,964.4 C1225.4,964.0 1224.0,963.7 1222.7,963.3 C1221.4,963.0 1220.1,962.6 1218.8,962.2 C1217.5,961.8 1216.2,961.4 1214.9,961.0 C1213.6,960.6 1212.3,960.2 1211.1,959.8 C1209.8,959.3 1208.5,958.9 1207.3,958.4 C1206.0,957.9 1204.8,957.5 1203.6,957.0 C1202.3,956.5 1201.1,955.9 1199.9,955.4 C1198.7,954.9 1197.5,954.3 1196.3,953.8 C1195.1,953.2 1193.9,952.6 1192.7,952.0 C1191.6,951.4 1190.4,950.8 1189.2,950.2 C1188.1,949.6 1186.9,948.9 1185.8,948.2 C1184.7,947.6 1183.5,946.9 1182.4,946.2 C1181.3,945.5 1180.2,944.8 1179.1,944.0 C1178.0,943.3 1176.9,942.6 1175.8,941.8 C1174.7,941.0 1173.6,940.3 1172.6,939.5 C1171.5,938.7 1170.4,937.9 1169.4,937.1 C1168.3,936.3 1167.3,935.4 1166.2,934.6 C1165.2,933.8 1164.1,932.9 1163.1,932.1 C1162.1,931.2 1161.0,930.4 1160.0,929.5 C1159.0,928.6 1158.0,927.7 1156.9,926.8 C1155.9,926.0 1154.9,925.1 1153.9,924.2 C1152.9,923.3 1151.9,922.4 1150.9,921.4 C1149.9,920.5 1148.9,919.6 1147.9,918.7 C1146.9,917.8 1145.9,916.9 1144.9,915.9 C1143.9,915.0 1142.9,914.1 1142.0,913.1 C1141.0,912.2 1140.0,911.3 1139.0,910.3 C1138.0,909.4 1137.0,908.5 1136.1,907.5 C1135.1,906.6 1134.1,905.7 1133.1,904.7 C1132.1,903.8 1131.2,902.9 1130.2,901.9 C1129.2,901.0 1128.2,900.1 1127.2,899.1 C1126.2,898.2 1125.2,897.3 1124.3,896.4 C1123.3,895.5 1122.3,894.6 1121.3,893.6 C1120.3,892.7 1119.3,891.8 1118.3,891.0 C1117.3,890.1 1116.3,889.2 1115.3,888.3 C1114.3,887.4 1113.3,886.5 1112.3,885.7 C1111.3,884.8 1110.3,884.0 1109.3,883.1 C1108.3,882.3 1107.2,881.4 1106.2,880.6 C1105.2,879.7 1104.2,878.9 1103.2,878.1 C1102.1,877.2 1101.1,876.4 1100.1,875.6 C1099.1,874.7 1098.0,873.9 1097.0,873.1 C1096.0,872.3 1095.0,871.4 1093.9,870.6 C1092.9,869.8 1091.9,868.9 1090.9,868.1 C1089.8,867.3 1088.8,866.5 1087.8,865.6 C1086.8,864.8 1085.7,863.9 1084.7,863.1 C1083.7,862.3 1082.7,861.4 1081.7,860.6 C1080.6,859.7 1079.6,858.9 1078.6,858.0 C1077.6,857.1 1076.6,856.3 1075.6,855.4 C1074.6,854.5 1073.6,853.6 1072.6,852.7 C1071.6,851.8 1070.6,850.9 1069.6,850.0 C1068.6,849.1 1067.6,848.2 1066.6,847.3 C1065.6,846.4 1064.6,845.4 1063.6,844.5 C1062.6,843.6 1061.7,842.6 1060.7,841.7 C1059.7,840.8 1058.7,839.8 1057.7,838.9 C1056.8,837.9 1055.8,837.0 1054.8,836.1 C1053.8,835.1 1052.9,834.2 1051.9,833.2 C1050.9,832.3 1049.9,831.3 1049.0,830.4 C1048.0,829.4 1047.0,828.5 1046.1,827.6 C1045.1,826.6 1044.1,825.7 1043.2,824.7 C1042.2,823.8 1041.2,822.8 1040.3,821.9 C1039.3,821.0 1038.3,820.0 1037.4,819.1 C1036.4,818.2 1035.4,817.2 1034.5,816.3 C1033.5,815.3 1032.6,814.4 1031.6,813.5 C1030.6,812.5 1029.7,811.6 1028.7,810.7 C1027.7,809.8 1026.7,808.8 1025.8,807.9 C1024.8,807.0 1023.8,806.1 1022.9,805.2 C1021.9,804.2 1020.9,803.3 1019.9,802.4 C1019.0,801.5 1018.0,800.6 1017.0,799.7 C1016.0,798.8 1015.0,797.9 1014.1,797.0 C1013.1,796.0 1012.1,795.1 1011.1,794.3 C1010.1,793.4 1009.1,792.5 1008.1,791.6 C1007.1,790.7 1006.1,789.8 1005.1,788.9 C1004.1,788.0 1003.1,787.1 1002.1,786.3 C1001.1,785.4 1000.1,784.5 999.1,783.7 C998.1,782.8 997.1,781.9 996.1,781.1 C995.0,780.2 994.0,779.4 993.0,778.5 C992.0,777.7 990.9,776.8 989.9,776.0 C988.8,775.1 987.8,774.3 986.8,773.5 C985.7,772.6 984.7,771.8 983.6,771.0 C982.6,770.1 981.5,769.3 980.4,768.5 C979.4,767.7 978.3,766.9 977.2,766.1 C976.1,765.3 975.1,764.5 974.0,763.7 C972.9,762.9 971.8,762.1 970.7,761.4 C969.6,760.6 968.5,759.8 967.4,759.0 C966.3,758.3 965.1,757.5 964.0,756.7 C962.9,756.0 961.7,755.2 960.6,754.5 C959.5,753.8 958.3,753.0 957.2,752.3 C956.0,751.6 954.8,750.9 953.7,750.1 C952.5,749.4 950.9,748.3 950.3,747.9 C949.1,747.4 946.7,746.2 943.1,745.0 C939.5,743.8 933.4,742.0 928.6,740.7 C923.8,739.4 920.1,738.6 914.1,737.1 C908.1,735.6 899.6,733.6 892.4,732.0 C885.2,730.4 877.8,729.2 870.7,727.7 C863.6,726.2 861.8,724.1 850.0,723.0 C838.2,721.9 819.3,721.5 800.0,721.0 C780.7,720.5 745.0,720.3 734.0,720.2 L734.0,719.0 C745.0,718.8 775.7,718.8 800.0,718.0 C824.3,717.2 860.8,715.0 880.0,714.0 C899.2,713.0 903.3,713.0 915.0,712.0 C926.7,711.0 941.2,710.0 950.0,708.0 C958.8,706.0 963.8,703.0 968.0,700.0 C972.2,697.0 973.0,693.7 975.0,690.0 C977.0,686.3 978.3,683.0 980.0,678.0 C981.7,673.0 984.2,666.3 985.0,660.0 C985.8,653.7 984.8,645.7 985.0,640.0 C985.2,634.3 984.0,631.4 986.0,626.0 C988.0,620.6 995.4,610.6 997.3,607.5 C997.9,607.2 999.8,606.7 1000.6,605.7 C1001.4,604.7 1001.5,603.0 1001.9,601.6 C1002.4,600.3 1002.8,598.9 1003.3,597.6 C1003.7,596.3 1004.2,594.9 1004.6,593.6 C1005.1,592.3 1005.5,591.0 1006.0,589.7 C1006.5,588.3 1006.9,587.0 1007.4,585.7 C1007.9,584.4 1008.3,583.1 1008.8,581.8 C1009.3,580.5 1009.8,579.2 1010.3,577.9 C1010.8,576.6 1011.3,575.3 1011.7,574.0 C1012.2,572.8 1012.7,571.5 1013.2,570.2 C1013.8,568.9 1014.3,567.7 1014.8,566.4 C1015.3,565.1 1015.8,563.9 1016.3,562.6 C1016.9,561.4 1017.4,560.1 1017.9,558.9 C1018.4,557.6 1019.0,556.4 1019.5,555.1 C1020.1,553.9 1020.6,552.6 1021.2,551.4 C1021.7,550.2 1022.3,548.9 1022.8,547.7 C1023.4,546.5 1024.0,545.3 1024.6,544.1 C1025.1,542.9 1025.7,541.6 1026.3,540.4 C1026.9,539.2 1027.5,538.0 1028.1,536.8 C1028.7,535.6 1029.3,534.4 1029.9,533.3 C1030.5,532.1 1031.1,530.9 1031.7,529.7 C1032.3,528.5 1033.0,527.3 1033.6,526.2 C1034.2,525.0 1034.9,523.8 1035.5,522.7 C1036.1,521.5 1036.8,520.3 1037.4,519.2 C1038.1,518.0 1038.8,516.9 1039.4,515.7 C1040.1,514.6 1040.8,513.5 1041.5,512.3 C1042.1,511.2 1042.8,510.0 1043.5,508.9 C1044.2,507.8 1044.9,506.7 1045.6,505.5 C1046.3,504.4 1047.0,503.3 1047.8,502.2 C1048.5,501.1 1049.2,500.0 1049.9,498.9 C1050.7,497.8 1051.4,496.7 1052.2,495.6 C1052.9,494.5 1053.7,493.4 1054.4,492.3 C1055.2,491.2 1055.9,490.2 1056.7,489.1 C1057.5,488.0 1058.3,486.9 1059.1,485.9 C1059.8,484.8 1060.6,483.7 1061.4,482.7 C1062.2,481.6 1063.0,480.6 1063.8,479.5 C1064.7,478.5 1065.5,477.4 1066.3,476.4 C1067.1,475.3 1068.0,474.3 1068.8,473.3 C1069.6,472.2 1070.5,471.2 1071.3,470.2 C1072.2,469.2 1073.0,468.1 1073.9,467.1 C1074.7,466.1 1075.6,465.1 1076.5,464.1 C1077.3,463.1 1078.2,462.1 1079.1,461.1 C1080.0,460.1 1080.9,459.1 1081.8,458.1 C1082.7,457.1 1083.6,456.1 1084.5,455.2 C1085.4,454.2 1086.3,453.2 1087.2,452.2 C1088.1,451.3 1089.0,450.3 1090.0,449.3 C1090.9,448.4 1091.8,447.4 1092.7,446.5 C1093.7,445.5 1094.6,444.6 1095.6,443.6 C1096.5,442.7 1097.5,441.7 1098.4,440.8 C1099.4,439.9 1100.3,438.9 1101.3,438.0 C1102.3,437.1 1103.2,436.2 1104.2,435.2 C1105.2,434.3 1106.2,433.4 1107.1,432.5 C1108.1,431.6 1109.1,430.7 1110.1,429.8 C1111.1,428.9 1112.1,428.0 1113.1,427.1 C1114.1,426.2 1115.1,425.3 1116.1,424.4 C1117.1,423.6 1118.1,422.7 1119.1,421.8 C1120.2,420.9 1121.2,420.1 1122.2,419.2 C1123.2,418.3 1124.3,417.5 1125.3,416.6 C1126.3,415.8 1127.4,414.9 1128.4,414.1 C1129.4,413.2 1130.5,412.4 1131.5,411.5 C1132.6,410.7 1133.6,409.9 1134.7,409.0 C1135.8,408.2 1136.8,407.4 1137.9,406.6 C1138.9,405.7 1140.0,404.9 1141.1,404.1 C1142.1,403.3 1143.2,402.5 1144.3,401.7 C1145.4,400.9 1146.4,400.1 1147.5,399.3 C1148.6,398.5 1149.7,397.7 1150.8,396.9 C1151.9,396.2 1153.0,395.4 1154.1,394.6 C1155.1,393.8 1156.2,393.1 1157.3,392.3 C1158.4,391.5 1159.5,390.8 1160.7,390.0 C1161.8,389.2 1162.9,388.5 1164.0,387.7 C1165.1,387.0 1166.2,386.3 1167.3,385.5 C1168.4,384.8 1169.6,384.0 1170.7,383.3 C1171.8,382.6 1172.9,381.9 1174.0,381.1 C1175.2,380.4 1176.3,379.7 1177.4,379.0 C1178.6,378.3 1179.7,377.6 1180.8,376.9 C1182.0,376.2 1183.1,375.5 1184.2,374.8 C1185.4,374.1 1186.5,373.4 1187.6,372.7 C1188.8,372.0 1189.9,371.3 1191.1,370.6 C1192.2,370.0 1193.4,369.3 1194.5,368.6 C1195.7,368.0 1196.8,367.3 1198.0,366.6 C1199.1,366.0 1200.3,365.3 1201.5,364.6 C1202.6,364.0 1203.8,363.3 1204.9,362.7 C1206.1,362.0 1207.3,361.4 1208.4,360.8 C1209.6,360.1 1210.8,359.5 1211.9,358.9 C1213.1,358.2 1214.3,357.6 1215.4,357.0 C1216.6,356.3 1217.8,355.7 1219.0,355.1 C1220.1,354.5 1221.3,353.8 1222.5,353.2 C1223.7,352.6 1224.9,352.0 1226.0,351.4 C1227.2,350.8 1228.4,350.2 1229.6,349.6 C1230.8,349.0 1232.0,348.4 1233.2,347.8 C1234.3,347.2 1235.5,346.6 1236.7,346.0 C1237.9,345.4 1239.1,344.8 1240.3,344.2 C1241.5,343.6 1242.7,343.1 1243.9,342.5 C1245.1,341.9 1246.3,341.3 1247.5,340.7 C1248.7,340.2 1249.9,339.6 1251.1,339.0 C1252.3,338.5 1253.5,337.9 1254.7,337.3 C1255.9,336.7 1257.1,336.2 1258.3,335.6 C1259.5,335.1 1260.8,334.5 1262.0,333.9 C1263.2,333.4 1264.4,332.8 1265.6,332.3 C1266.8,331.7 1268.0,331.1 1269.2,330.6 C1270.5,330.0 1271.7,329.5 1272.9,328.9 C1274.1,328.4 1275.3,327.8 1276.5,327.3 C1277.8,326.8 1279.0,326.2 1280.2,325.7 C1281.4,325.1 1282.7,324.6 1283.9,324.0 C1285.1,323.5 1286.3,323.0 1287.5,322.4 C1288.8,321.9 1290.0,321.3 1291.2,320.8 C1292.5,320.3 1293.7,319.7 1294.9,319.2 C1296.1,318.7 1297.4,318.1 1298.6,317.6 C1299.8,317.1 1301.1,316.5 1302.3,316.0 C1303.5,315.5 1304.8,315.0 1306.0,314.4 C1307.2,313.9 1308.5,313.4 1309.7,312.8 C1310.9,312.3 1312.2,311.8 1313.4,311.3 C1314.6,310.7 1315.9,310.2 1317.1,309.7 C1318.3,309.2 1319.6,308.6 1320.8,308.1 C1322.0,307.6 1323.3,307.1 1324.5,306.5 C1325.8,306.0 1327.0,305.5 1328.2,305.0 C1329.5,304.4 1330.7,303.9 1332.0,303.4 C1333.2,302.9 1334.4,302.3 1335.7,301.8 C1336.9,301.3 1338.2,300.8 1339.4,300.2 C1340.6,299.7 1341.9,299.2 1343.1,298.7 C1344.4,298.1 1345.6,297.6 1346.9,297.1 C1348.1,296.5 1349.3,296.0 1350.6,295.5 C1351.8,295.0 1353.1,294.4 1354.3,293.9 C1355.6,293.4 1356.8,292.8 1358.0,292.3 C1359.3,291.8 1360.5,291.3 1361.8,290.7 C1363.0,290.2 1364.3,289.7 1365.5,289.1 C1366.8,288.6 1368.0,288.0 1369.2,287.5 C1370.5,287.0 1371.7,286.4 1373.0,285.9 C1374.2,285.4 1375.5,284.8 1376.7,284.3 C1377.9,283.7 1379.2,283.2 1380.4,282.6 C1381.7,282.1 1382.9,281.6 1384.2,281.0 C1385.4,280.5 1386.6,279.9 1387.9,279.4 C1389.1,278.8 1390.4,278.3 1391.6,277.7 C1392.9,277.2 1394.1,276.6 1395.3,276.1 C1396.6,275.5 1397.8,275.0 1399.1,274.4 C1400.3,273.9 1401.5,273.3 1402.8,272.8 C1404.0,272.2 1405.3,271.7 1406.5,271.1 C1407.7,270.5 1409.0,270.0 1410.2,269.4 C1411.4,268.9 1412.7,268.3 1413.9,267.8 C1415.2,267.2 1416.4,266.6 1417.6,266.1 C1418.9,265.5 1420.1,265.0 1421.3,264.4 C1422.6,263.8 1423.8,263.3 1425.0,262.7 C1426.3,262.2 1427.5,261.6 1428.7,261.0 C1430.0,260.5 1431.2,259.9 1432.4,259.4 C1433.6,258.8 1434.9,258.2 1436.1,257.7 C1437.3,257.1 1438.6,256.5 1439.8,256.0 C1441.0,255.4 1442.2,254.8 1443.5,254.3 C1444.7,253.7 1445.9,253.1 1447.1,252.6 C1448.4,252.0 1449.6,251.5 1450.8,250.9 C1452.0,250.3 1453.2,249.8 1454.5,249.2 C1455.7,248.6 1456.9,248.1 1458.1,247.5 C1459.3,246.9 1460.5,246.4 1461.8,245.8 C1463.0,245.2 1464.2,244.7 1465.4,244.1 C1466.6,243.5 1467.8,243.0 1469.0,242.4 C1470.2,241.8 1471.4,241.3 1472.7,240.7 C1473.9,240.1 1475.1,239.6 1476.3,239.0 C1477.5,238.4 1478.7,237.9 1479.9,237.3 C1481.1,236.7 1482.3,236.2 1483.5,235.6 C1484.7,235.0 1485.9,234.5 1487.1,233.9 C1488.3,233.3 1489.5,232.8 1490.7,232.2 C1491.9,231.6 1493.1,231.1 1494.2,230.5 C1495.4,230.0 1496.6,229.4 1497.8,228.8 C1499.0,228.3 1500.2,227.7 1501.4,227.1 C1502.6,226.6 1503.7,226.0 1504.9,225.5 C1506.1,224.9 1507.3,224.3 1508.5,223.8 C1509.6,223.2 1510.8,222.7 1512.0,222.1 C1513.2,221.5 1514.4,221.0 1515.5,220.4 C1516.7,219.9 1517.9,219.3 1519.0,218.7 C1520.2,218.2 1521.4,217.6 1522.5,217.1 C1523.7,216.5 1524.9,216.0 1526.0,215.4 C1527.2,214.9 1528.3,214.3 1529.5,213.8 C1530.7,213.2 1531.8,212.7 1533.0,212.1 C1534.1,211.6 1534.9,210.6 1536.4,210.5 C1537.9,210.3 1540.9,211.0 1541.8,211.1 L1541.8,212.2 L1556.0,212.2 L1556.0,204.8 L1571.6,204.8 L1571.6,200.2 L1584.0,200.2 L1590.0,194.5 L1596.0,189.2 L1596.0,189.2 L1605.7,189.2 L1605.7,184.0 L1620.0,184.0 L1620.0,179.0 L1637.5,179.0 L1637.5,174.2 L1650.0,174.2 L1650.0,169.2 L1673.0,169.2 L1673.0,163.9 L1697.3,163.9 L1697.3,158.6 L1709.3,158.6" stroke="#ff0000" stroke-width="4.6"/>
<rect x="989" y="656" width="27" height="16" fill="#ff0000" stroke="none"/>
<rect x="966" y="650" width="17" height="22" fill="#008000" stroke="none"/>
<rect x="971" y="673" width="21" height="18" fill="#ff0000" stroke="none"/>
<rect x="984" y="675" width="19" height="12" fill="#008000" stroke="none"/>
<rect x="968.5" y="640" width="8.0" height="7" fill="#008000" stroke="none"/>
<path d="M1000 540.5 H1064.6" stroke="#008000" stroke-width="4.4"/>
<path d="M1015 564.3 H1150.2" stroke="#008000" stroke-width="4.4"/>
<path d="M1008 579.8 H1075.1" stroke="#008000" stroke-width="4.4"/>
<path d="M1005 590.2 H1075.1" stroke="#008000" stroke-width="4.4"/>
<path d="M1000 600.2 H1095.5" stroke="#ff0000" stroke-width="4.4"/>
<path d="M995 603.5 H1033" stroke="#ff0000" stroke-width="4.4"/>
<path d="M990 609.6 H1025.4" stroke="#008000" stroke-width="4.4"/>
<path d="M992 612.9 H1035.9" stroke="#ff0000" stroke-width="4.4"/>
<path d="M985 631.7 H1026" stroke="#ff0000" stroke-width="4.4"/>
<path d="M985 639.4 H1012.7" stroke="#ff0000" stroke-width="4.4"/>
<path d="M985 649.3 H1036.4" stroke="#ff0000" stroke-width="4.4"/>
<path d="M1036.4 649.3 H1061.8" stroke="#008000" stroke-width="4.4"/>
<path d="M988 662 H1010" stroke="#ff0000" stroke-width="4.4"/>
<path d="M1010 662 H1064.6" stroke="#008000" stroke-width="4.4"/>
<path d="M990 674.2 H1065.1" stroke="#008000" stroke-width="4.4"/>
<path d="M990 684.7 H1059.6" stroke="#008000" stroke-width="4.4"/>
<path d="M1105 432.5 H1165.5" stroke="#ff0000" stroke-width="4.4"/>
<path d="M1090 448.8 H1126.4" stroke="#ff0000" stroke-width="4.4"/>
<path d="M1060 482 H1098.1" stroke="#ff0000" stroke-width="4.4"/>
<path d="M1042 515.1 H1098.4" stroke="#ff0000" stroke-width="4.4"/>
<path d="M1048 499.4 H1064.3" stroke="#ff0000" stroke-width="4.4"/>
<path d="M1030 538.4 H1065" stroke="#008000" stroke-width="4.4"/>
<path d="M1085 454.7 H1103" stroke="#008000" stroke-width="4.4"/>
<path d="M1208 361.5 H1226" stroke="#008000" stroke-width="4.4"/>
<path d="M1140 401.4 H1152.8" stroke="#008000" stroke-width="4.4"/>
<path d="M1252.0,966.0 C1251.3,965.9 1249.4,965.9 1248.1,965.7 C1246.7,965.5 1245.4,965.2 1244.0,964.9 C1242.7,964.6 1241.4,964.3 1240.1,964.0 C1238.7,963.7 1237.4,963.3 1236.1,963.0 C1234.8,962.7 1233.5,962.3 1232.2,962.0 C1230.9,961.6 1229.6,961.2 1228.4,960.9 C1227.1,960.5 1225.8,960.1 1224.5,959.7 C1223.3,959.3 1222.0,958.9 1220.7,958.5 C1219.5,958.1 1218.2,957.7 1217.0,957.3 C1215.7,956.9 1214.5,956.4 1213.3,956.0 C1212.0,955.5 1210.8,955.1 1209.6,954.6 C1208.4,954.2 1207.1,953.7 1205.9,953.2 C1204.7,952.7 1203.5,952.2 1202.3,951.7 C1201.1,951.2 1199.9,950.6 1198.7,950.1 C1197.5,949.5 1196.3,949.0 1195.1,948.4 C1193.9,947.8 1192.8,947.2 1191.6,946.6 C1190.4,946.0 1189.2,945.4 1188.1,944.7 C1186.9,944.1 1185.7,943.5 1184.6,942.8 C1183.4,942.1 1182.3,941.5 1181.1,940.8 C1180.0,940.1 1178.8,939.4 1177.7,938.7 C1176.5,938.0 1175.4,937.3 1174.2,936.6 C1173.1,935.8 1172.0,935.1 1170.8,934.4 C1169.7,933.6 1168.6,932.9 1167.5,932.1 C1166.3,931.3 1165.2,930.6 1164.1,929.8 C1163.0,929.0 1161.9,928.3 1160.8,927.5 C1159.7,926.7 1158.6,925.9 1157.4,925.1 C1156.3,924.3 1155.2,923.5 1154.1,922.7 C1153.0,921.9 1151.9,921.1 1150.9,920.3 C1149.8,919.4 1148.7,918.6 1147.6,917.8 C1146.5,917.0 1145.4,916.2 1144.3,915.3 C1143.2,914.5 1142.1,913.7 1141.1,912.9 C1140.0,912.0 1138.9,911.2 1137.8,910.4 C1136.7,909.6 1135.7,908.7 1134.6,907.9 C1133.5,907.1 1132.4,906.3 1131.4,905.4 C1130.3,904.6 1129.2,903.8 1128.2,903.0 C1127.1,902.2 1126.0,901.3 1125.0,900.5 C1123.9,899.7 1122.8,898.9 1121.8,898.1 C1120.7,897.3 1119.6,896.5 1118.6,895.7 C1117.5,894.9 1116.4,894.1 1115.4,893.3 C1114.3,892.5 1113.3,891.7 1112.2,891.0 C1111.1,890.2 1110.1,889.4 1109.0,888.6 C1108.0,887.8 1106.9,887.0 1105.9,886.2 C1104.8,885.5 1103.8,884.7 1102.7,883.9 C1101.7,883.1 1100.6,882.3 1099.6,881.5 C1098.5,880.8 1097.5,880.0 1096.4,879.2 C1095.4,878.4 1094.3,877.6 1093.3,876.8 C1092.3,876.1 1091.2,875.3 1090.2,874.5 C1089.1,873.7 1088.1,872.9 1087.1,872.1 C1086.0,871.3 1085.0,870.5 1084.0,869.7 C1083.0,868.9 1081.9,868.1 1080.9,867.3 C1079.9,866.5 1078.8,865.7 1077.8,864.9 C1076.8,864.1 1075.8,863.3 1074.8,862.5 C1073.7,861.7 1072.7,860.8 1071.7,860.0 C1070.7,859.2 1069.7,858.3 1068.7,857.5 C1067.7,856.6 1066.7,855.7 1065.7,854.9 C1064.7,854.0 1063.7,853.1 1062.7,852.2 C1061.7,851.3 1060.7,850.4 1059.7,849.5 C1058.7,848.6 1057.7,847.7 1056.7,846.8 C1055.7,845.8 1054.7,844.9 1053.7,844.0 C1052.7,843.0 1051.7,842.1 1050.8,841.2 C1049.8,840.2 1048.8,839.3 1047.8,838.3 C1046.8,837.4 1045.9,836.4 1044.9,835.4 C1043.9,834.5 1043.0,833.5 1042.0,832.6 C1041.0,831.6 1040.1,830.6 1039.1,829.7 C1038.2,828.7 1037.2,827.8 1036.2,826.8 C1035.3,825.8 1034.3,824.9 1033.4,823.9 C1032.4,823.0 1031.5,822.0 1030.6,821.0 C1029.6,820.1 1028.7,819.1 1027.7,818.1 C1026.8,817.2 1025.9,816.2 1024.9,815.3 C1024.0,814.3 1023.0,813.3 1022.1,812.4 C1021.2,811.4 1020.3,810.4 1019.3,809.5 C1018.4,808.5 1017.5,807.5 1016.6,806.6 C1015.6,805.6 1014.7,804.7 1013.8,803.7 C1012.9,802.7 1011.9,801.8 1011.0,800.8 C1010.1,799.8 1009.2,798.9 1008.3,797.9 C1007.4,796.9 1006.5,795.9 1005.5,795.0 C1004.6,794.0 1003.7,793.0 1002.8,792.1 C1001.9,791.1 1001.0,790.1 1000.1,789.2 C999.2,788.2 998.3,787.2 997.4,786.2 C996.5,785.3 995.5,784.3 994.6,783.3 C993.7,782.4 992.8,781.4 991.9,780.4 C991.0,779.4 990.1,778.5 989.2,777.5 C988.3,776.5 987.4,775.5 986.5,774.5 C985.6,773.6 984.7,772.6 983.8,771.6 C982.9,770.6 982.0,769.6 981.1,768.7 C980.2,767.7 979.3,766.7 978.4,765.7 C977.5,764.7 976.6,763.8 975.7,762.8 C974.8,761.8 973.9,760.8 973.0,759.8 C972.1,758.8 971.2,757.8 970.3,756.9 C969.4,755.9 968.5,754.9 967.6,753.9 C966.7,752.9 965.8,751.9 964.9,750.9 C964.0,749.9 962.5,748.5 962.0,748.0 C960.7,746.8 958.4,743.4 954.0,740.7 C949.6,738.0 940.7,734.2 935.9,732.0 C931.1,729.8 929.2,729.2 925.0,727.7 C920.8,726.2 918.0,725.6 910.5,723.3 C903.0,721.0 890.1,716.1 880.0,714.0 C869.9,711.9 866.7,711.2 850.0,710.5 C833.3,709.8 805.0,709.8 780.0,709.6 C755.0,709.4 713.3,709.4 700.0,709.4 L352.0,709.2 L352.0,708.6 L574.0,708.4 L700.0,707.8 C720.0,707.5 786.7,707.3 820.0,706.3 C853.3,705.3 880.0,703.4 900.0,702.0 C920.0,700.6 928.7,699.1 940.0,698.0 C951.3,696.9 959.6,696.1 967.6,695.2 C975.6,694.3 982.9,693.2 988.3,692.5 C993.7,691.8 998.0,691.3 1000.0,691.1 L1002.8,686.3 C1002.7,685.9 1002.5,684.9 1002.0,683.9 C1001.5,682.9 1000.7,681.6 1000.0,680.4 C999.3,679.2 998.4,678.1 997.5,676.9 C996.7,675.7 995.7,674.5 994.8,673.3 C993.9,672.2 992.9,671.0 991.9,669.8 C991.0,668.6 990.0,667.4 989.1,666.2 C988.2,665.0 987.3,663.8 986.5,662.6 C985.6,661.4 984.8,660.1 984.2,658.9 C983.5,657.7 982.9,656.5 982.3,655.3 C981.8,654.1 981.3,652.8 981.0,651.6 C980.6,650.4 980.3,649.2 980.0,647.9 C979.8,646.7 979.6,645.5 979.4,644.2 C979.3,643.0 979.2,641.7 979.2,640.5 C979.1,639.3 979.1,638.0 979.2,636.8 C979.2,635.5 979.3,634.3 979.4,633.0 C979.5,631.8 979.7,630.5 979.9,629.3 C980.0,628.0 980.2,626.8 980.4,625.5 C980.6,624.3 980.8,623.0 981.0,621.7 C981.3,620.5 981.5,619.2 981.8,618.0 C982.0,616.7 982.3,615.4 982.5,614.2 C982.8,612.9 983.1,611.6 983.4,610.4 C983.6,609.1 983.9,607.8 984.3,606.6 C984.6,605.3 984.9,604.0 985.2,602.7 C985.5,601.5 985.9,600.2 986.2,598.9 C986.5,597.7 986.9,596.4 987.3,595.1 C987.6,593.8 988.0,592.6 988.4,591.3 C988.7,590.0 989.1,588.7 989.5,587.5 C989.9,586.2 990.3,584.9 990.7,583.6 C991.1,582.4 991.5,581.1 991.9,579.8 C992.3,578.5 992.8,577.3 993.2,576.0 C993.6,574.7 994.1,573.4 994.5,572.2 C994.9,570.9 995.4,569.6 995.8,568.4 C996.3,567.1 996.8,565.8 997.2,564.5 C997.7,563.3 998.1,562.0 998.6,560.7 C999.1,559.5 999.6,558.2 1000.0,556.9 C1000.5,555.7 1001.0,554.4 1001.5,553.1 C1002.0,551.9 1002.5,550.6 1002.9,549.4 C1003.4,548.1 1003.9,546.8 1004.4,545.6 C1004.9,544.3 1005.4,543.1 1006.0,541.8 C1006.5,540.6 1007.0,539.3 1007.5,538.1 C1008.0,536.8 1008.6,535.6 1009.1,534.3 C1009.6,533.1 1010.1,531.8 1010.7,530.6 C1011.2,529.4 1011.8,528.1 1012.3,526.9 C1012.9,525.6 1013.4,524.4 1014.0,523.2 C1014.5,521.9 1015.1,520.7 1015.6,519.5 C1016.2,518.3 1016.8,517.0 1017.4,515.8 C1017.9,514.6 1018.5,513.4 1019.1,512.2 C1019.7,511.0 1020.3,509.7 1020.9,508.5 C1021.5,507.3 1022.1,506.1 1022.7,504.9 C1023.3,503.7 1023.9,502.5 1024.5,501.3 C1025.1,500.1 1025.8,498.9 1026.4,497.8 C1027.0,496.6 1027.6,495.4 1028.3,494.2 C1028.9,493.0 1029.6,491.9 1030.2,490.7 C1030.9,489.5 1031.5,488.3 1032.2,487.2 C1032.8,486.0 1033.5,484.9 1034.2,483.7 C1034.8,482.6 1035.5,481.4 1036.2,480.3 C1036.9,479.1 1037.6,478.0 1038.3,476.8 C1039.0,475.7 1039.7,474.6 1040.4,473.4 C1041.1,472.3 1041.8,471.2 1042.5,470.1 C1043.2,469.0 1043.9,467.9 1044.7,466.7 C1045.4,465.6 1046.1,464.5 1046.9,463.4 C1047.6,462.3 1048.4,461.3 1049.1,460.2 C1049.9,459.1 1050.6,458.0 1051.4,456.9 C1052.2,455.9 1052.9,454.8 1053.7,453.7 C1054.5,452.7 1055.3,451.6 1056.1,450.6 C1056.9,449.5 1057.7,448.5 1058.5,447.4 C1059.3,446.4 1060.1,445.4 1060.9,444.3 C1061.7,443.3 1062.5,442.3 1063.4,441.3 C1064.2,440.3 1065.0,439.2 1065.9,438.2 C1066.7,437.2 1067.6,436.3 1068.4,435.3 C1069.3,434.3 1070.2,433.3 1071.0,432.3 C1071.9,431.4 1072.8,430.4 1073.7,429.4 C1074.5,428.5 1075.4,427.5 1076.3,426.6 C1077.2,425.6 1078.1,424.7 1079.1,423.8 C1080.0,422.8 1080.9,421.9 1081.8,421.0 C1082.7,420.1 1083.7,419.2 1084.6,418.3 C1085.6,417.4 1086.5,416.5 1087.5,415.6 C1088.4,414.7 1089.4,413.8 1090.3,412.9 C1091.3,412.1 1092.3,411.2 1093.3,410.3 C1094.2,409.5 1095.2,408.6 1096.2,407.8 C1097.2,406.9 1098.2,406.1 1099.2,405.2 C1100.2,404.4 1101.2,403.6 1102.3,402.7 C1103.3,401.9 1104.3,401.1 1105.3,400.3 C1106.3,399.5 1107.4,398.7 1108.4,397.9 C1109.5,397.1 1110.5,396.3 1111.6,395.5 C1112.6,394.7 1113.7,393.9 1114.7,393.2 C1115.8,392.4 1116.9,391.6 1117.9,390.9 C1119.0,390.1 1120.1,389.3 1121.2,388.6 C1122.2,387.8 1123.3,387.1 1124.4,386.4 C1125.5,385.6 1126.6,384.9 1127.7,384.2 C1128.8,383.4 1129.9,382.7 1131.0,382.0 C1132.2,381.3 1133.3,380.6 1134.4,379.8 C1135.5,379.1 1136.6,378.4 1137.8,377.7 C1138.9,377.0 1140.0,376.3 1141.2,375.7 C1142.3,375.0 1143.5,374.3 1144.6,373.6 C1145.7,372.9 1146.9,372.3 1148.1,371.6 C1149.2,370.9 1150.4,370.3 1151.5,369.6 C1152.7,368.9 1153.9,368.3 1155.0,367.6 C1156.2,367.0 1157.4,366.3 1158.6,365.7 C1159.7,365.1 1160.9,364.4 1162.1,363.8 C1163.3,363.2 1164.5,362.5 1165.7,361.9 C1166.9,361.3 1168.1,360.7 1169.3,360.0 C1170.5,359.4 1171.7,358.8 1172.9,358.2 C1174.1,357.6 1175.3,357.0 1176.5,356.4 C1177.7,355.8 1178.9,355.2 1180.1,354.6 C1181.4,354.0 1182.6,353.4 1183.8,352.8 C1185.0,352.3 1186.3,351.7 1187.5,351.1 C1188.7,350.5 1189.9,349.9 1191.2,349.4 C1192.4,348.8 1193.6,348.2 1194.9,347.7 C1196.1,347.1 1197.4,346.5 1198.6,346.0 C1199.8,345.4 1201.1,344.9 1202.3,344.3 C1203.6,343.8 1204.8,343.2 1206.1,342.7 C1207.3,342.1 1208.6,341.6 1209.8,341.0 C1211.1,340.5 1212.4,340.0 1213.6,339.4 C1214.9,338.9 1216.1,338.3 1217.4,337.8 C1218.7,337.3 1219.9,336.8 1221.2,336.2 C1222.4,335.7 1223.7,335.2 1225.0,334.7 C1226.2,334.1 1227.5,333.6 1228.8,333.1 C1230.0,332.6 1231.3,332.1 1232.6,331.6 C1233.9,331.1 1235.1,330.5 1236.4,330.0 C1237.7,329.5 1238.9,329.0 1240.2,328.5 C1241.5,328.0 1242.8,327.5 1244.0,327.0 C1245.3,326.5 1246.6,326.0 1247.9,325.5 C1249.1,325.0 1250.4,324.5 1251.7,324.0 C1253.0,323.5 1254.2,323.0 1255.5,322.6 C1256.8,322.1 1258.1,321.6 1259.4,321.1 C1260.6,320.6 1261.9,320.1 1263.2,319.6 C1264.5,319.1 1265.7,318.7 1267.0,318.2 C1268.3,317.7 1269.6,317.2 1270.8,316.7 C1272.1,316.2 1273.4,315.8 1274.7,315.3 C1275.9,314.8 1277.2,314.3 1278.5,313.8 C1279.8,313.4 1281.0,312.9 1282.3,312.4 C1283.6,311.9 1284.9,311.5 1286.1,311.0 C1287.4,310.5 1288.7,310.0 1289.9,309.6 C1291.2,309.1 1292.5,308.6 1293.7,308.1 C1295.0,307.7 1296.3,307.2 1297.5,306.7 C1298.8,306.2 1300.1,305.8 1301.3,305.3 C1302.6,304.8 1303.8,304.3 1305.1,303.9 C1306.4,303.4 1307.6,302.9 1308.9,302.4 C1310.1,302.0 1311.4,301.5 1312.6,301.0 C1313.9,300.6 1315.1,300.1 1316.4,299.6 C1317.6,299.1 1318.9,298.7 1320.1,298.2 C1321.4,297.7 1322.6,297.2 1323.8,296.8 C1325.1,296.3 1326.3,295.8 1327.6,295.3 C1328.8,294.8 1330.0,294.4 1331.3,293.9 C1332.5,293.4 1333.7,292.9 1335.0,292.5 C1336.2,292.0 1337.4,291.5 1338.7,291.0 C1339.9,290.5 1341.1,290.1 1342.4,289.6 C1343.6,289.1 1344.8,288.6 1346.0,288.1 C1347.3,287.7 1348.5,287.2 1349.7,286.7 C1350.9,286.2 1352.2,285.7 1353.4,285.3 C1354.6,284.8 1355.8,284.3 1357.0,283.8 C1358.3,283.3 1359.5,282.8 1360.7,282.3 C1361.9,281.9 1363.1,281.4 1364.3,280.9 C1365.6,280.4 1366.8,279.9 1368.0,279.4 C1369.2,278.9 1370.4,278.4 1371.6,278.0 C1372.8,277.5 1374.0,277.0 1375.3,276.5 C1376.5,276.0 1377.7,275.5 1378.9,275.0 C1380.1,274.5 1381.3,274.0 1382.5,273.5 C1383.7,273.0 1384.9,272.5 1386.2,272.0 C1387.4,271.6 1388.6,271.1 1389.8,270.6 C1391.0,270.1 1392.2,269.6 1393.4,269.1 C1394.6,268.6 1395.8,268.1 1397.0,267.6 C1398.2,267.1 1399.4,266.6 1400.6,266.1 C1401.8,265.5 1403.1,265.0 1404.3,264.5 C1405.5,264.0 1406.7,263.5 1407.9,263.0 C1409.1,262.5 1410.3,262.0 1411.5,261.5 C1412.7,261.0 1413.9,260.5 1415.1,260.0 C1416.3,259.4 1417.5,258.9 1418.7,258.4 C1420.0,257.9 1421.2,257.4 1422.4,256.9 C1423.6,256.4 1424.8,255.8 1426.0,255.3 C1427.2,254.8 1428.4,254.3 1429.6,253.8 C1430.8,253.2 1432.0,252.7 1433.2,252.2 C1434.5,251.7 1435.7,251.1 1436.9,250.6 C1438.1,250.1 1439.3,249.6 1440.5,249.0 C1441.7,248.5 1442.9,248.0 1444.2,247.4 C1445.4,246.9 1446.6,246.4 1447.8,245.9 C1449.0,245.3 1450.2,244.8 1451.4,244.2 C1452.7,243.7 1453.9,243.2 1455.1,242.6 C1456.3,242.1 1457.5,241.5 1458.8,241.0 C1460.0,240.5 1461.2,239.9 1462.4,239.4 C1463.6,238.8 1464.9,238.3 1466.1,237.7 C1467.3,237.2 1468.5,236.6 1469.8,236.1 C1471.0,235.5 1472.2,235.0 1473.4,234.4 C1474.7,233.9 1475.9,233.3 1477.1,232.7 C1478.4,232.2 1479.6,231.6 1480.8,231.1 C1482.1,230.5 1483.3,229.9 1484.5,229.4 C1485.8,228.8 1487.0,228.2 1488.3,227.7 C1489.5,227.1 1490.7,226.5 1492.0,226.0 C1493.2,225.4 1494.5,224.8 1495.7,224.2 C1497.0,223.7 1498.2,223.1 1499.5,222.5 C1500.7,221.9 1502.0,221.4 1503.2,220.8 C1504.5,220.2 1505.7,219.6 1507.0,219.0 C1508.2,218.4 1509.5,217.8 1510.8,217.2 C1512.0,216.7 1513.3,216.1 1514.5,215.5 C1515.8,214.9 1517.1,214.3 1518.3,213.7 C1519.6,213.1 1520.9,212.5 1522.1,211.9 C1523.4,211.3 1524.8,210.4 1526.0,210.1 C1527.2,209.7 1528.8,209.8 1529.4,209.8 L1545.0,201.0 L1553.0,198.0 L1556.0,193.4 L1571.5,193.4 L1571.5,188.8 L1596.5,188.8 L1596.5,184.0 L1623.0,184.0 L1623.0,179.2 L1652.0,179.2 L1652.0,174.4 L1675.0,174.4 L1675.0,169.4 L1699.6,169.4 L1699.6,164.0 L1711.0,164.0 L1711.0,158.6 L1728.0,158.6" stroke="#000" stroke-width="4.6"/>
<path d="M1039 471.4 H1054" stroke="#000000" stroke-width="4.4"/>
<path d="M1034 497.4 H1052" stroke="#000000" stroke-width="4.4"/>
<path d="M1014 529.4 H1027.7" stroke="#000000" stroke-width="4.4"/>
<path d="M1332.5,967.1 L1290.0,967.0 L1290.0,967.3 C1289.4,967.2 1287.7,966.9 1286.4,966.8 C1285.0,966.7 1283.4,966.7 1282.0,966.6 C1280.5,966.6 1279.1,966.5 1277.7,966.4 C1276.3,966.3 1274.8,966.2 1273.4,966.0 C1272.0,965.9 1270.6,965.8 1269.3,965.6 C1267.9,965.4 1266.5,965.3 1265.2,965.1 C1263.8,964.9 1262.4,964.6 1261.1,964.4 C1259.8,964.2 1258.4,963.9 1257.1,963.7 C1255.8,963.4 1254.5,963.1 1253.2,962.8 C1251.9,962.5 1250.6,962.2 1249.3,961.9 C1248.0,961.5 1246.8,961.2 1245.5,960.8 C1244.2,960.5 1243.0,960.1 1241.7,959.7 C1240.5,959.3 1239.2,958.9 1238.0,958.4 C1236.8,958.0 1235.6,957.6 1234.3,957.1 C1233.1,956.6 1231.9,956.1 1230.7,955.6 C1229.5,955.1 1228.3,954.6 1227.2,954.1 C1226.0,953.6 1224.8,953.0 1223.6,952.5 C1222.5,951.9 1221.3,951.3 1220.1,950.7 C1219.0,950.1 1217.8,949.5 1216.7,948.9 C1215.5,948.3 1214.4,947.6 1213.3,947.0 C1212.1,946.3 1211.0,945.7 1209.9,945.0 C1208.8,944.3 1207.7,943.6 1206.6,942.9 C1205.4,942.2 1204.3,941.5 1203.2,940.8 C1202.1,940.1 1201.1,939.3 1200.0,938.6 C1198.9,937.8 1197.8,937.1 1196.7,936.3 C1195.6,935.5 1194.6,934.8 1193.5,934.0 C1192.4,933.2 1191.4,932.4 1190.3,931.6 C1189.2,930.8 1188.2,930.0 1187.1,929.1 C1186.1,928.3 1185.0,927.5 1184.0,926.6 C1182.9,925.8 1181.9,925.0 1180.8,924.1 C1179.8,923.2 1178.7,922.4 1177.7,921.5 C1176.7,920.7 1175.6,919.8 1174.6,918.9 C1173.6,918.0 1172.5,917.2 1171.5,916.3 C1170.5,915.4 1169.4,914.5 1168.4,913.6 C1167.4,912.7 1166.4,911.9 1165.3,911.0 C1164.3,910.1 1163.3,909.2 1162.3,908.3 C1161.3,907.4 1160.2,906.5 1159.2,905.6 C1158.2,904.7 1157.2,903.8 1156.2,902.9 C1155.2,902.0 1154.1,901.2 1153.1,900.3 C1152.1,899.4 1151.1,898.5 1150.1,897.6 C1149.1,896.7 1148.0,895.8 1147.0,895.0 C1146.0,894.1 1145.0,893.2 1144.0,892.3 C1142.9,891.4 1141.9,890.6 1140.9,889.7 C1139.9,888.8 1138.9,888.0 1137.8,887.1 C1136.8,886.2 1135.8,885.4 1134.8,884.5 C1133.7,883.6 1132.7,882.8 1131.7,881.9 C1130.6,881.1 1129.6,880.2 1128.6,879.4 C1127.5,878.5 1126.5,877.7 1125.5,876.8 C1124.4,876.0 1123.4,875.2 1122.3,874.3 C1121.3,873.5 1120.2,872.7 1119.2,871.8 C1118.1,871.0 1117.1,870.2 1116.0,869.4 C1115.0,868.6 1113.9,867.7 1112.9,866.9 C1111.8,866.1 1110.7,865.3 1109.7,864.5 C1108.6,863.7 1107.5,862.9 1106.5,862.1 C1105.4,861.3 1104.3,860.5 1103.3,859.7 C1102.2,858.9 1101.1,858.1 1100.0,857.3 C1099.0,856.5 1097.9,855.8 1096.8,855.0 C1095.7,854.2 1094.6,853.4 1093.5,852.6 C1092.5,851.9 1091.4,851.1 1090.3,850.3 C1089.2,849.6 1088.1,848.8 1087.0,848.0 C1085.9,847.3 1084.8,846.5 1083.7,845.7 C1082.6,845.0 1081.5,844.2 1080.4,843.5 C1079.3,842.7 1078.2,842.0 1077.1,841.2 C1076.0,840.5 1074.9,839.8 1073.8,839.0 C1072.7,838.3 1071.5,837.5 1070.4,836.8 C1069.3,836.1 1068.2,835.3 1067.1,834.6 C1066.0,833.9 1064.8,833.2 1063.7,832.4 C1062.6,831.7 1061.5,831.0 1060.3,830.3 C1059.2,829.5 1058.1,828.8 1056.9,828.1 C1055.8,827.4 1054.7,826.7 1053.5,826.0 C1052.4,825.3 1051.3,824.6 1050.1,823.9 C1049.0,823.2 1047.8,822.5 1046.7,821.8 C1045.6,821.1 1044.4,820.4 1043.3,819.7 C1042.1,819.0 1041.0,818.3 1039.8,817.6 C1038.7,816.9 1037.5,816.3 1036.4,815.6 C1035.2,814.9 1034.1,814.2 1032.9,813.5 C1031.8,812.8 1030.6,812.1 1029.4,811.5 C1028.3,810.8 1027.1,810.1 1026.0,809.4 C1024.8,808.7 1023.7,808.0 1022.5,807.3 C1021.4,806.6 1020.3,805.9 1019.1,805.3 C1018.0,804.6 1016.8,803.9 1015.7,803.2 C1014.6,802.4 1013.4,801.7 1012.3,801.0 C1011.2,800.3 1010.0,799.6 1008.9,798.9 C1007.8,798.2 1006.7,797.4 1005.6,796.7 C1004.5,796.0 1003.4,795.2 1002.3,794.5 C1001.2,793.7 1000.1,793.0 999.0,792.2 C997.9,791.4 996.8,790.7 995.7,789.9 C994.7,789.1 993.6,788.3 992.5,787.5 C991.5,786.7 990.4,785.9 989.4,785.1 C988.4,784.3 987.3,783.4 986.3,782.6 C985.3,781.8 984.3,780.9 983.3,780.0 C982.3,779.2 981.3,778.3 980.3,777.4 C979.3,776.5 978.3,775.6 977.4,774.7 C976.4,773.8 975.4,772.9 974.5,771.9 C973.6,771.0 972.6,770.0 971.7,769.1 C970.8,768.1 969.9,767.1 969.0,766.1 C968.1,765.1 967.3,764.1 966.4,763.0 C965.5,762.0 964.7,760.9 963.9,759.9 C963.0,758.8 962.2,757.7 961.4,756.6 C960.6,755.5 959.8,754.4 959.1,753.2 C958.3,752.1 957.5,750.9 956.8,749.7 C956.1,748.5 955.3,746.6 955.0,746.0 C953.6,744.1 949.3,737.7 946.7,734.9 C944.1,732.1 942.5,731.0 939.5,729.1 C936.5,727.2 932.8,724.8 928.6,723.3 C924.4,721.8 920.1,721.4 914.1,720.4 C908.1,719.4 903.1,718.4 892.4,717.5 C881.7,716.6 865.4,715.7 850.0,715.0 C834.6,714.3 825.0,714.0 800.0,713.5 C775.0,713.0 720.2,712.3 700.0,712.0 C679.8,711.7 682.1,711.6 678.5,711.5 L678.5,711.2 C682.1,711.2 679.8,711.2 700.0,711.0 C720.2,710.8 773.3,710.5 800.0,710.0 C826.7,709.5 843.3,708.9 860.0,708.3 C876.7,707.7 890.0,707.1 900.0,706.6 C910.0,706.1 910.0,705.9 920.0,705.5 C930.0,705.1 949.0,704.9 960.0,704.0 C971.0,703.1 977.5,701.2 986.0,700.0 C994.5,698.8 1001.3,698.1 1011.0,696.8 C1020.7,695.5 1034.0,693.9 1044.0,692.4 C1054.0,690.9 1065.7,689.3 1070.7,688.0 C1075.7,686.7 1073.5,685.2 1074.0,684.7 C1073.5,684.3 1071.9,683.1 1070.8,682.4 C1069.7,681.8 1068.5,681.2 1067.3,680.6 C1066.2,680.0 1065.1,679.3 1064.0,678.6 C1062.8,677.9 1061.7,677.2 1060.6,676.5 C1059.5,675.7 1058.4,675.0 1057.3,674.2 C1056.2,673.5 1055.0,672.7 1053.9,672.0 C1052.8,671.2 1051.7,670.4 1050.6,669.7 C1049.4,668.9 1048.3,668.2 1047.2,667.5 C1046.0,666.8 1044.9,666.0 1043.8,665.4 C1042.6,664.7 1041.4,664.0 1040.3,663.4 C1039.1,662.7 1037.9,662.1 1036.7,661.6 C1035.5,661.0 1034.3,660.5 1033.1,660.0 C1031.8,659.5 1030.6,659.0 1029.3,658.7 C1028.1,658.3 1026.8,657.9 1025.5,657.7 C1024.2,657.4 1022.9,657.1 1021.5,656.9 C1020.2,656.7 1018.8,656.6 1017.5,656.5 C1016.1,656.3 1014.8,656.2 1013.4,656.1 C1012.0,656.0 1010.6,656.0 1009.2,655.9 C1007.8,655.9 1006.4,655.8 1005.0,655.8 C1003.7,655.7 1002.2,655.7 1000.8,655.6 C999.4,655.5 998.0,655.5 996.6,655.4 C995.3,655.3 993.9,655.2 992.5,655.0 C991.1,654.9 989.7,654.7 988.3,654.5 C987.0,654.3 985.6,654.1 984.2,653.8 C982.9,653.5 981.5,653.1 980.2,652.7 C978.9,652.3 977.6,651.8 976.3,651.3 C975.0,650.8 973.8,650.2 972.5,649.6 C971.3,649.0 970.1,648.3 969.0,647.6 C967.9,646.9 966.8,646.1 965.8,645.3 C964.8,644.5 963.8,643.6 962.9,642.7 C962.1,641.8 961.2,640.9 960.5,639.9 C959.8,639.0 959.2,638.0 958.6,636.9 C958.1,635.9 957.6,634.9 957.2,633.8 C956.8,632.7 956.5,631.6 956.3,630.4 C956.0,629.3 955.9,628.2 955.7,627.0 C955.6,625.8 955.6,624.6 955.6,623.4 C955.6,622.2 955.7,621.0 955.8,619.8 C955.9,618.6 956.0,617.3 956.2,616.1 C956.4,614.9 956.6,613.6 956.9,612.4 C957.1,611.1 957.4,609.9 957.8,608.7 C958.1,607.4 958.4,606.2 958.8,605.0 C959.1,603.7 959.5,602.5 959.9,601.3 C960.3,600.0 960.8,598.8 961.2,597.6 C961.7,596.4 962.1,595.2 962.6,594.0 C963.1,592.8 963.6,591.6 964.1,590.4 C964.7,589.2 965.2,588.0 965.8,586.8 C966.3,585.6 966.9,584.4 967.5,583.2 C968.1,582.0 968.7,580.9 969.3,579.7 C970.0,578.5 970.6,577.3 971.3,576.2 C971.9,575.0 972.6,573.8 973.3,572.7 C974.0,571.5 974.7,570.4 975.4,569.2 C976.1,568.1 976.8,566.9 977.5,565.8 C978.3,564.6 979.0,563.5 979.8,562.3 C980.5,561.2 981.3,560.1 982.1,558.9 C982.9,557.8 983.7,556.7 984.5,555.6 C985.3,554.4 986.1,553.3 986.9,552.2 C987.7,551.1 988.5,550.0 989.4,548.9 C990.2,547.8 991.0,546.7 991.9,545.6 C992.7,544.5 993.6,543.4 994.4,542.3 C995.3,541.2 996.1,540.1 997.0,539.0 C997.9,537.9 998.7,536.8 999.6,535.7 C1000.5,534.7 1001.3,533.6 1002.2,532.5 C1003.1,531.4 1004.0,530.4 1004.9,529.3 C1005.7,528.2 1006.6,527.2 1007.5,526.1 C1008.4,525.1 1009.3,524.0 1010.1,523.0 C1011.0,521.9 1011.9,520.9 1012.8,519.8 C1013.7,518.8 1014.6,517.7 1015.4,516.7 C1016.3,515.7 1017.2,514.6 1018.1,513.6 C1018.9,512.6 1019.8,511.5 1020.7,510.5 C1021.6,509.5 1022.5,508.5 1023.3,507.4 C1024.2,506.4 1025.1,505.4 1026.0,504.4 C1026.8,503.4 1027.7,502.4 1028.6,501.4 C1029.5,500.4 1030.3,499.4 1031.2,498.4 C1032.1,497.4 1033.0,496.4 1033.8,495.4 C1034.7,494.4 1035.6,493.4 1036.5,492.4 C1037.4,491.4 1038.2,490.4 1039.1,489.5 C1040.0,488.5 1040.9,487.5 1041.8,486.5 C1042.7,485.6 1043.6,484.6 1044.4,483.6 C1045.3,482.7 1046.2,481.7 1047.1,480.7 C1048.0,479.8 1048.9,478.8 1049.8,477.9 C1050.7,476.9 1051.6,476.0 1052.5,475.0 C1053.4,474.1 1054.3,473.1 1055.2,472.2 C1056.1,471.2 1057.0,470.3 1057.9,469.3 C1058.8,468.4 1059.7,467.5 1060.6,466.5 C1061.6,465.6 1062.5,464.7 1063.4,463.7 C1064.3,462.8 1065.2,461.9 1066.2,461.0 C1067.1,460.1 1068.0,459.1 1069.0,458.2 C1069.9,457.3 1070.8,456.4 1071.8,455.5 C1072.7,454.6 1073.7,453.7 1074.6,452.8 C1075.5,451.9 1076.5,451.0 1077.4,450.1 C1078.4,449.2 1079.3,448.3 1080.3,447.4 C1081.3,446.5 1082.2,445.6 1083.2,444.7 C1084.2,443.8 1085.1,442.9 1086.1,442.0 C1087.1,441.1 1088.0,440.2 1089.0,439.3 C1090.0,438.5 1091.0,437.6 1091.9,436.7 C1092.9,435.8 1093.9,434.9 1094.9,434.1 C1095.9,433.2 1096.9,432.3 1097.9,431.4 C1098.9,430.6 1099.8,429.7 1100.8,428.8 C1101.8,427.9 1102.8,427.1 1103.8,426.2 C1104.8,425.3 1105.9,424.5 1106.9,423.6 C1107.9,422.7 1108.9,421.8 1109.9,421.0 C1110.9,420.1 1111.9,419.3 1112.9,418.4 C1114.0,417.5 1115.0,416.7 1116.0,415.8 C1117.0,414.9 1118.1,414.1 1119.1,413.2 C1120.1,412.4 1121.2,411.5 1122.2,410.7 C1123.2,409.8 1124.3,409.0 1125.3,408.1 C1126.3,407.3 1127.4,406.4 1128.4,405.6 C1129.5,404.7 1130.5,403.9 1131.6,403.1 C1132.6,402.2 1133.7,401.4 1134.7,400.5 C1135.8,399.7 1136.8,398.9 1137.9,398.0 C1138.9,397.2 1140.0,396.4 1141.1,395.6 C1142.1,394.7 1143.2,393.9 1144.3,393.1 C1145.3,392.3 1146.4,391.5 1147.5,390.7 C1148.6,389.9 1149.6,389.0 1150.7,388.2 C1151.8,387.4 1152.9,386.6 1153.9,385.8 C1155.0,385.0 1156.1,384.2 1157.2,383.4 C1158.3,382.7 1159.4,381.9 1160.5,381.1 C1161.6,380.3 1162.6,379.5 1163.7,378.7 C1164.8,378.0 1165.9,377.2 1167.0,376.4 C1168.1,375.7 1169.2,374.9 1170.3,374.1 C1171.4,373.4 1172.5,372.6 1173.6,371.9 C1174.7,371.1 1175.9,370.4 1177.0,369.6 C1178.1,368.9 1179.2,368.2 1180.3,367.4 C1181.4,366.7 1182.5,366.0 1183.7,365.2 C1184.8,364.5 1185.9,363.8 1187.0,363.1 C1188.1,362.4 1189.3,361.6 1190.4,360.9 C1191.5,360.2 1192.6,359.5 1193.8,358.8 C1194.9,358.1 1196.0,357.4 1197.2,356.7 C1198.3,356.0 1199.4,355.3 1200.6,354.7 C1201.7,354.0 1202.8,353.3 1204.0,352.6 C1205.1,351.9 1206.3,351.3 1207.4,350.6 C1208.5,349.9 1209.7,349.2 1210.8,348.6 C1212.0,347.9 1213.1,347.2 1214.3,346.6 C1215.4,345.9 1216.6,345.3 1217.7,344.6 C1218.9,344.0 1220.0,343.3 1221.2,342.7 C1222.4,342.0 1223.5,341.4 1224.7,340.7 C1225.8,340.1 1227.0,339.4 1228.1,338.8 C1229.3,338.2 1230.5,337.5 1231.6,336.9 C1232.8,336.3 1234.0,335.6 1235.1,335.0 C1236.3,334.4 1237.5,333.8 1238.6,333.1 C1239.8,332.5 1241.0,331.9 1242.2,331.3 C1243.3,330.7 1244.5,330.1 1245.7,329.4 C1246.9,328.8 1248.0,328.2 1249.2,327.6 C1250.4,327.0 1251.6,326.4 1252.7,325.8 C1253.9,325.2 1255.1,324.6 1256.3,324.0 C1257.5,323.4 1258.7,322.8 1259.8,322.2 C1261.0,321.6 1262.2,321.0 1263.4,320.4 C1264.6,319.8 1265.8,319.2 1267.0,318.6 C1268.2,318.0 1269.3,317.4 1270.5,316.8 C1271.7,316.2 1272.9,315.6 1274.1,315.1 C1275.3,314.5 1276.5,313.9 1277.7,313.3 C1278.9,312.7 1280.1,312.1 1281.3,311.6 C1282.5,311.0 1283.7,310.4 1284.9,309.8 C1286.1,309.2 1287.3,308.6 1288.5,308.1 C1289.7,307.5 1290.9,306.9 1292.1,306.3 C1293.3,305.7 1294.5,305.2 1295.7,304.6 C1296.9,304.0 1298.1,303.4 1299.3,302.9 C1300.5,302.3 1301.7,301.7 1303.0,301.1 C1304.2,300.6 1305.4,300.0 1306.6,299.4 C1307.8,298.9 1309.0,298.3 1310.2,297.7 C1311.4,297.1 1312.6,296.6 1313.9,296.0 C1315.1,295.4 1316.3,294.9 1317.5,294.3 C1318.7,293.7 1319.9,293.2 1321.1,292.6 C1322.4,292.0 1323.6,291.5 1324.8,290.9 C1326.0,290.3 1327.2,289.8 1328.4,289.2 C1329.7,288.7 1330.9,288.1 1332.1,287.5 C1333.3,287.0 1334.5,286.4 1335.7,285.8 C1337.0,285.3 1338.2,284.7 1339.4,284.2 C1340.6,283.6 1341.8,283.0 1343.1,282.5 C1344.3,281.9 1345.5,281.4 1346.7,280.8 C1348.0,280.3 1349.2,279.7 1350.4,279.1 C1351.6,278.6 1352.8,278.0 1354.1,277.5 C1355.3,276.9 1356.5,276.4 1357.7,275.8 C1359.0,275.3 1360.2,274.7 1361.4,274.2 C1362.6,273.6 1363.9,273.1 1365.1,272.5 C1366.3,272.0 1367.5,271.4 1368.8,270.9 C1370.0,270.3 1371.2,269.8 1372.4,269.2 C1373.7,268.7 1374.9,268.1 1376.1,267.6 C1377.3,267.0 1378.6,266.5 1379.8,265.9 C1381.0,265.4 1382.2,264.8 1383.5,264.3 C1384.7,263.7 1385.9,263.2 1387.1,262.6 C1388.4,262.1 1389.6,261.6 1390.8,261.0 C1392.0,260.5 1393.3,259.9 1394.5,259.4 C1395.7,258.8 1397.0,258.3 1398.2,257.7 C1399.4,257.2 1400.6,256.7 1401.9,256.1 C1403.1,255.6 1404.3,255.0 1405.5,254.5 C1406.8,254.0 1408.0,253.4 1409.2,252.9 C1410.4,252.3 1411.7,251.8 1412.9,251.3 C1414.1,250.7 1415.3,250.2 1416.6,249.6 C1417.8,249.1 1419.0,248.6 1420.2,248.0 C1421.4,247.5 1422.7,246.9 1423.9,246.4 C1425.1,245.9 1426.3,245.3 1427.6,244.8 C1428.8,244.3 1430.0,243.7 1431.2,243.2 C1432.4,242.6 1433.7,242.1 1434.9,241.6 C1436.1,241.0 1437.3,240.5 1438.5,240.0 C1439.8,239.4 1441.0,238.9 1442.2,238.4 C1443.4,237.8 1444.6,237.3 1445.9,236.8 C1447.1,236.2 1448.3,235.7 1449.5,235.1 C1450.7,234.6 1451.9,234.1 1453.2,233.5 C1454.4,233.0 1455.6,232.5 1456.8,231.9 C1458.0,231.4 1459.2,230.9 1460.4,230.3 C1461.7,229.8 1462.9,229.3 1464.1,228.7 C1465.3,228.2 1466.5,227.7 1467.7,227.1 C1468.9,226.6 1470.1,226.1 1471.3,225.6 C1472.6,225.0 1473.8,224.5 1475.0,224.0 C1476.2,223.4 1477.4,222.9 1478.6,222.4 C1479.8,221.8 1481.0,221.3 1482.2,220.8 C1483.4,220.2 1484.6,219.7 1485.8,219.2 C1487.0,218.6 1488.2,218.1 1489.4,217.6 C1490.6,217.0 1491.8,216.5 1493.0,216.0 C1494.2,215.4 1495.4,214.9 1496.6,214.4 C1497.8,213.9 1499.0,213.3 1500.2,212.8 C1501.4,212.3 1502.6,211.7 1503.8,211.2 C1505.0,210.7 1506.2,210.1 1507.3,209.6 C1508.5,209.1 1509.6,208.4 1510.9,208.0 C1512.3,207.7 1514.7,207.6 1515.5,207.5 L1515.5,205.0 L1515.5,205.0 L1541.0,205.0 L1541.0,200.0 L1569.0,200.0 L1569.0,193.8 L1605.7,193.8 L1605.7,189.5 L1636.8,189.5 L1636.8,183.8 L1666.9,183.8 L1666.9,179.1 L1690.2,179.1 L1690.2,174.5 L1705.7,174.5 L1705.7,169.8 L1714.2,169.8 L1714.2,164.4 L1719.6,164.4 L1719.6,158.2 L1722.7,158.2" stroke="#0000ff" stroke-width="4.6"/>
</g>
<g stroke="#000" stroke-width="4.6" fill="none" stroke-linecap="butt">
<path d="M273 58.3 H1879.3 M287.4 56 V1245 M1877 56 V1245 M261 1220 H1879.3"/>
<path d="M261 1219.3 H287.4"/>
<path d="M273 1168.8 H287.4"/>
<path d="M261 1118.3 H287.4"/>
<path d="M273 1067.8 H287.4"/>
<path d="M261 1017.3 H287.4"/>
<path d="M273 966.8 H287.4"/>
<path d="M261 916.3 H287.4"/>
<path d="M273 865.8 H287.4"/>
<path d="M261 815.3 H287.4"/>
<path d="M273 764.8 H287.4"/>
<path d="M261 714.3 H287.4"/>
<path d="M273 663.8 H287.4"/>
<path d="M261 613.3 H287.4"/>
<path d="M273 562.8 H287.4"/>
<path d="M261 512.3 H287.4"/>
<path d="M273 461.8 H287.4"/>
<path d="M261 411.3 H287.4"/>
<path d="M273 360.8 H287.4"/>
<path d="M261 310.3 H287.4"/>
<path d="M273 259.8 H287.4"/>
<path d="M261 209.3 H287.4"/>
<path d="M273 158.8 H287.4"/>
<path d="M261 108.3 H287.4"/>
<path d="M273 57.8 H287.4"/>
<path d="M326.9 1220 V1233"/>
<path d="M350.2 1220 V1233"/>
<path d="M366.8 1220 V1233"/>
<path d="M379.6 1220 V1233"/>
<path d="M390.1 1220 V1233"/>
<path d="M399.0 1220 V1233"/>
<path d="M406.7 1220 V1233"/>
<path d="M413.4 1220 V1233"/>
<path d="M459.4 1220 V1233"/>
<path d="M482.7 1220 V1233"/>
<path d="M499.3 1220 V1233"/>
<path d="M512.1 1220 V1233"/>
<path d="M522.6 1220 V1233"/>
<path d="M531.5 1220 V1233"/>
<path d="M539.2 1220 V1233"/>
<path d="M545.9 1220 V1233"/>
<path d="M419.5 1220 V1245"/>
<path d="M591.9 1220 V1233"/>
<path d="M615.2 1220 V1233"/>
<path d="M631.8 1220 V1233"/>
<path d="M644.6 1220 V1233"/>
<path d="M655.1 1220 V1233"/>
<path d="M664.0 1220 V1233"/>
<path d="M671.7 1220 V1233"/>
<path d="M678.4 1220 V1233"/>
<path d="M552.0 1220 V1245"/>
<path d="M724.4 1220 V1233"/>
<path d="M747.7 1220 V1233"/>
<path d="M764.3 1220 V1233"/>
<path d="M777.1 1220 V1233"/>
<path d="M787.6 1220 V1233"/>
<path d="M796.5 1220 V1233"/>
<path d="M804.2 1220 V1233"/>
<path d="M810.9 1220 V1233"/>
<path d="M684.5 1220 V1245"/>
<path d="M856.9 1220 V1233"/>
<path d="M880.2 1220 V1233"/>
<path d="M896.8 1220 V1233"/>
<path d="M909.6 1220 V1233"/>
<path d="M920.1 1220 V1233"/>
<path d="M929.0 1220 V1233"/>
<path d="M936.7 1220 V1233"/>
<path d="M943.4 1220 V1233"/>
<path d="M817.0 1220 V1245"/>
<path d="M989.4 1220 V1233"/>
<path d="M1012.7 1220 V1233"/>
<path d="M1029.3 1220 V1233"/>
<path d="M1042.1 1220 V1233"/>
<path d="M1052.6 1220 V1233"/>
<path d="M1061.5 1220 V1233"/>
<path d="M1069.2 1220 V1233"/>
<path d="M1075.9 1220 V1233"/>
<path d="M949.5 1220 V1245"/>
<path d="M1121.9 1220 V1233"/>
<path d="M1145.2 1220 V1233"/>
<path d="M1161.8 1220 V1233"/>
<path d="M1174.6 1220 V1233"/>
<path d="M1185.1 1220 V1233"/>
<path d="M1194.0 1220 V1233"/>
<path d="M1201.7 1220 V1233"/>
<path d="M1208.4 1220 V1233"/>
<path d="M1082.0 1220 V1245"/>
<path d="M1254.4 1220 V1233"/>
<path d="M1277.7 1220 V1233"/>
<path d="M1294.3 1220 V1233"/>
<path d="M1307.1 1220 V1233"/>
<path d="M1317.6 1220 V1233"/>
<path d="M1326.5 1220 V1233"/>
<path d="M1334.2 1220 V1233"/>
<path d="M1340.9 1220 V1233"/>
<path d="M1214.5 1220 V1245"/>
<path d="M1386.9 1220 V1233"/>
<path d="M1410.2 1220 V1233"/>
<path d="M1426.8 1220 V1233"/>
<path d="M1439.6 1220 V1233"/>
<path d="M1450.1 1220 V1233"/>
<path d="M1459.0 1220 V1233"/>
<path d="M1466.7 1220 V1233"/>
<path d="M1473.4 1220 V1233"/>
<path d="M1347.0 1220 V1245"/>
<path d="M1519.4 1220 V1233"/>
<path d="M1542.7 1220 V1233"/>
<path d="M1559.3 1220 V1233"/>
<path d="M1572.1 1220 V1233"/>
<path d="M1582.6 1220 V1233"/>
<path d="M1591.5 1220 V1233"/>
<path d="M1599.2 1220 V1233"/>
<path d="M1605.9 1220 V1233"/>
<path d="M1479.5 1220 V1245"/>
<path d="M1651.9 1220 V1233"/>
<path d="M1675.2 1220 V1233"/>
<path d="M1691.8 1220 V1233"/>
<path d="M1704.6 1220 V1233"/>
<path d="M1715.1 1220 V1233"/>
<path d="M1724.0 1220 V1233"/>
<path d="M1731.7 1220 V1233"/>
<path d="M1738.4 1220 V1233"/>
<path d="M1612.0 1220 V1245"/>
<path d="M1784.4 1220 V1233"/>
<path d="M1807.7 1220 V1233"/>
<path d="M1824.3 1220 V1233"/>
<path d="M1837.1 1220 V1233"/>
<path d="M1847.6 1220 V1233"/>
<path d="M1856.5 1220 V1233"/>
<path d="M1864.2 1220 V1233"/>
<path d="M1870.9 1220 V1233"/>
<path d="M1744.5 1220 V1245"/>
</g>
<text transform="translate(245,1232.3) scale(0.94,1)" font-size="49" text-anchor="end">-1.0</text>
<text transform="translate(245,1131.3) scale(0.94,1)" font-size="49" text-anchor="end">-0.8</text>
<text transform="translate(245,1030.3) scale(0.94,1)" font-size="49" text-anchor="end">-0.6</text>
<text transform="translate(245,929.3) scale(0.94,1)" font-size="49" text-anchor="end">-0.4</text>
<text transform="translate(245,828.3) scale(0.94,1)" font-size="49" text-anchor="end">-0.2</text>
<text transform="translate(245,727.3) scale(0.94,1)" font-size="49" text-anchor="end">0.0</text>
<text transform="translate(245,626.3) scale(0.94,1)" font-size="49" text-anchor="end">0.2</text>
<text transform="translate(245,525.3) scale(0.94,1)" font-size="49" text-anchor="end">0.4</text>
<text transform="translate(245,424.3) scale(0.94,1)" font-size="49" text-anchor="end">0.6</text>
<text transform="translate(245,323.3) scale(0.94,1)" font-size="49" text-anchor="end">0.8</text>
<text transform="translate(245,222.3) scale(0.94,1)" font-size="49" text-anchor="end">1.0</text>
<text transform="translate(245,121.3) scale(0.94,1)" font-size="49" text-anchor="end">1.2</text>
<text transform="translate(240.6,1304.3) scale(0.94,1)" font-size="49">10</text>
<text transform="translate(291.8,1279.3) scale(0.94,1)" font-size="29">-12</text>
<text transform="translate(373.1,1304.3) scale(0.94,1)" font-size="49">10</text>
<text transform="translate(424.3,1279.3) scale(0.94,1)" font-size="29">-11</text>
<text transform="translate(505.5,1304.3) scale(0.94,1)" font-size="49">10</text>
<text transform="translate(556.7,1279.3) scale(0.94,1)" font-size="29">-10</text>
<text transform="translate(645.7,1304.3) scale(0.94,1)" font-size="49">10</text>
<text transform="translate(696.9,1279.3) scale(0.94,1)" font-size="29">-9</text>
<text transform="translate(778.1,1304.3) scale(0.94,1)" font-size="49">10</text>
<text transform="translate(829.3,1279.3) scale(0.94,1)" font-size="29">-8</text>
<text transform="translate(910.7,1304.3) scale(0.94,1)" font-size="49">10</text>
<text transform="translate(961.9,1279.3) scale(0.94,1)" font-size="29">-7</text>
<text transform="translate(1043.1,1304.3) scale(0.94,1)" font-size="49">10</text>
<text transform="translate(1094.3,1279.3) scale(0.94,1)" font-size="29">-6</text>
<text transform="translate(1175.6,1304.3) scale(0.94,1)" font-size="49">10</text>
<text transform="translate(1226.8,1279.3) scale(0.94,1)" font-size="29">-5</text>
<text transform="translate(1307.9,1304.3) scale(0.94,1)" font-size="49">10</text>
<text transform="translate(1359.1,1279.3) scale(0.94,1)" font-size="29">-4</text>
<text transform="translate(1440.6,1304.3) scale(0.94,1)" font-size="49">10</text>
<text transform="translate(1491.8,1279.3) scale(0.94,1)" font-size="29">-3</text>
<text transform="translate(1573.2,1304.3) scale(0.94,1)" font-size="49">10</text>
<text transform="translate(1624.4,1279.3) scale(0.94,1)" font-size="29">-2</text>
<text transform="translate(1705.7,1304.3) scale(0.94,1)" font-size="49">10</text>
<text transform="translate(1756.9,1279.3) scale(0.94,1)" font-size="29">-1</text>
<text transform="translate(1842.6,1304.3) scale(0.94,1)" font-size="49">10</text>
<text transform="translate(1893.8,1279.3) scale(0.94,1)" font-size="29">0</text>
<text transform="translate(92,827.3) rotate(-90) scale(0.965,1)" font-size="60">E (vs. SCE) [V]</text>
<text x="943.4" y="1405.5" font-size="59">i</text>
<text transform="translate(956.5,1428.4) scale(1.04,1)" font-size="34.5">corr</text>
<text x="1032.4" y="1405.5" font-size="59">[A/cm</text>
<text x="1182.2" y="1373.8" font-size="35">2</text>
<text x="1202.4" y="1405.5" font-size="59">]</text>
<path d="M331.6 851 H441.6" stroke="#808080" stroke-width="4.8"/>
<text transform="translate(452.0,866.2) scale(0.94,1)" font-size="49.5">HS6-5-2</text>
<path d="M331.6 907.9 H441.6" stroke="#0000ff" stroke-width="4.8"/>
<text transform="translate(452.0,922.1) scale(0.94,1)" font-size="49.5">CrN</text>
<path d="M331.6 1047.2 H441.6" stroke="#ff0000" stroke-width="4.8"/>
<text transform="translate(452.0,1062.7) scale(0.94,1)" font-size="49.5">3 Pa</text>
<path d="M331.6 1104.6 H441.6" stroke="#008000" stroke-width="4.8"/>
<text transform="translate(452.0,1120.9) scale(0.94,1)" font-size="49.5">4 Pa</text>
<path d="M331.6 1162.8 H441.6" stroke="#000000" stroke-width="4.8"/>
<text transform="translate(452.0,1177.5) scale(0.94,1)" font-size="49.5">5 Pa</text>
<text transform="translate(335.4,981.6) scale(0.94,1)" font-size="49.5">AlCrN deposited at p</text>
<text transform="translate(765.5,999.7) scale(1,1)" font-size="27">N</text>
<text transform="translate(785.7,1010.8) scale(1,1)" font-size="18">2</text>
</svg></body></html>
